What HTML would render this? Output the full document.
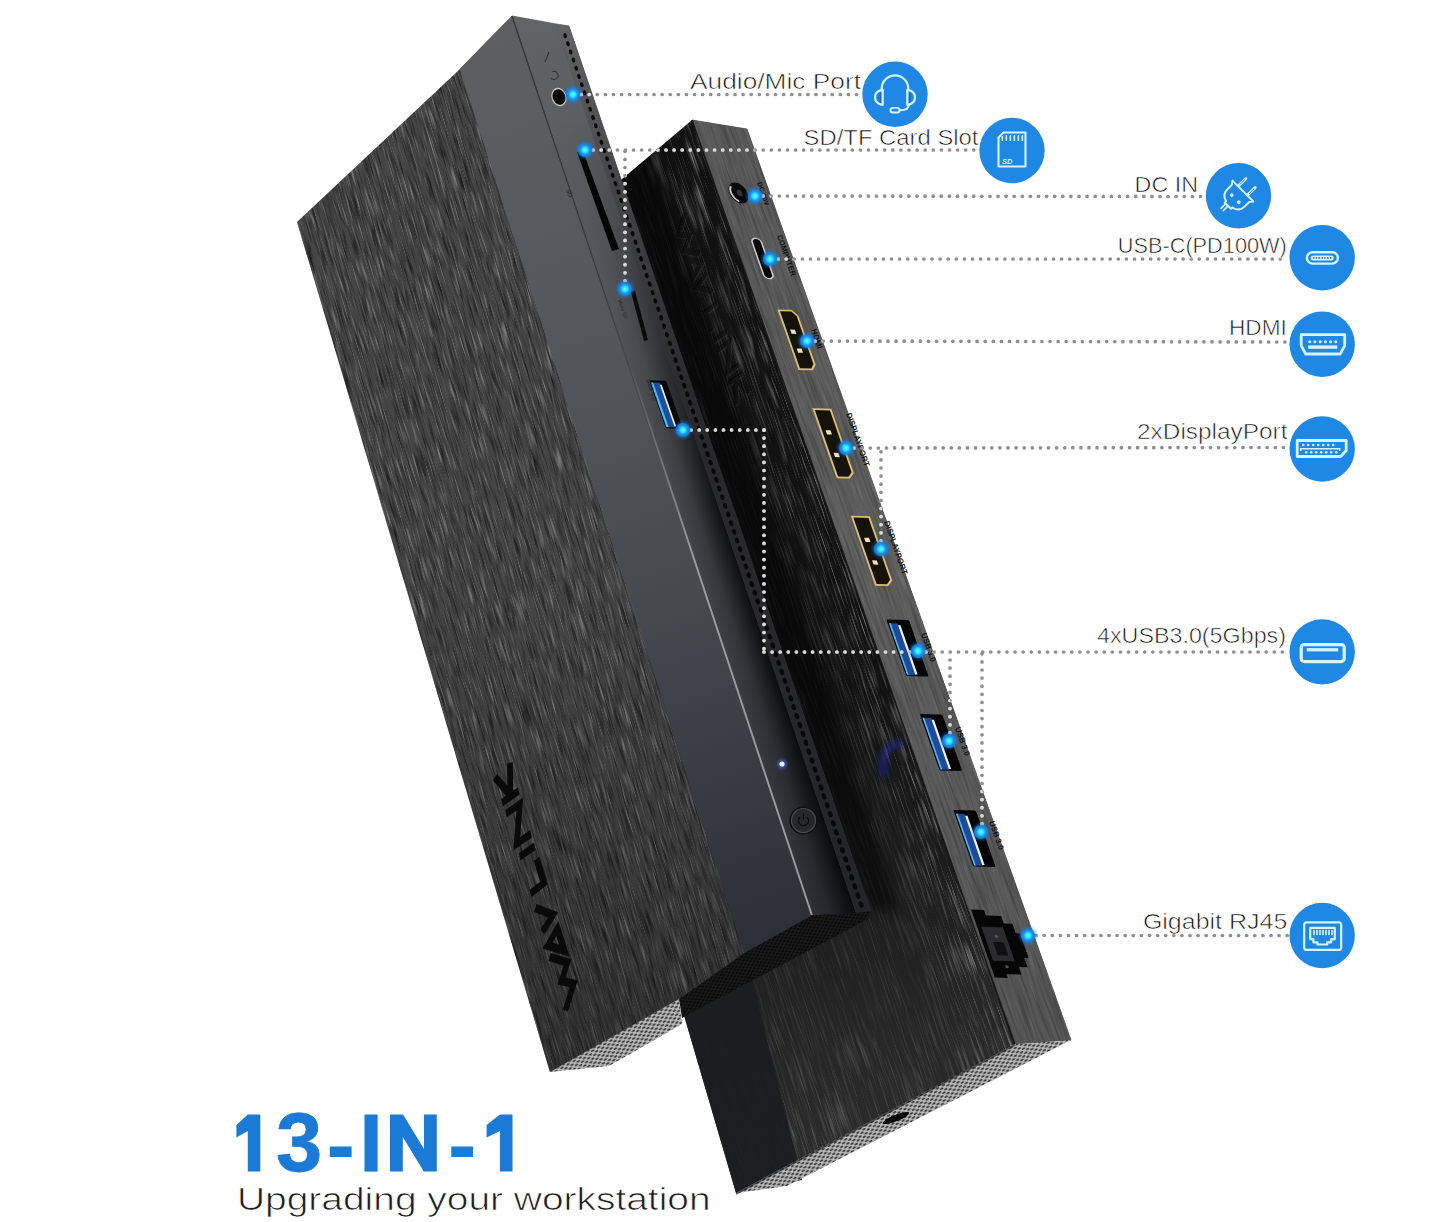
<!DOCTYPE html><html><head><meta charset="utf-8"><style>html,body{margin:0;padding:0;background:#fff;width:1445px;height:1222px;overflow:hidden}svg{display:block}</style></head><body>
<svg width="1445" height="1222" viewBox="0 0 1445 1222" font-family="Liberation Sans, sans-serif">
<defs>
<filter id="brush" x="0" y="0" width="100%" height="100%" filterUnits="objectBoundingBox">
<feTurbulence type="fractalNoise" baseFrequency="0.03 0.7" numOctaves="3" seed="3"/>
<feColorMatrix type="matrix" values="0 0 0 0 0  0 0 0 0 0  0 0 0 0 0  -1.5 0 0 0 0.83"/></filter>
<filter id="brushL" x="0" y="0" width="100%" height="100%" filterUnits="objectBoundingBox">
<feTurbulence type="fractalNoise" baseFrequency="0.03 0.8" numOctaves="2" seed="9"/>
<feColorMatrix type="matrix" values="0 0 0 0 1  0 0 0 0 1  0 0 0 0 1  1.05 0 0 0 -0.55"/></filter>
<filter id="brushB" x="0" y="0" width="100%" height="100%" filterUnits="objectBoundingBox">
<feTurbulence type="fractalNoise" baseFrequency="0.02 0.6" numOctaves="3" seed="5"/>
<feColorMatrix type="matrix" values="0 0 0 0 1  0 0 0 0 1  0 0 0 0 1  1.6 0 0 0 -0.8"/></filter>
<filter id="brushS" x="0" y="0" width="100%" height="100%" filterUnits="objectBoundingBox">
<feTurbulence type="fractalNoise" baseFrequency="0.015 0.4" numOctaves="2" seed="7"/>
<feColorMatrix type="matrix" values="0 0 0 0 0  0 0 0 0 0  0 0 0 0 0  -1.4 0 0 0 0.8"/></filter>
<filter id="glow" x="-1" y="-1" width="3" height="3"><feGaussianBlur stdDeviation="1.6"/></filter>
<filter id="blur1" x="-1" y="-1" width="3" height="3"><feGaussianBlur stdDeviation="0.6"/></filter><filter id="blur3" x="-1" y="-1" width="3" height="3"><feGaussianBlur stdDeviation="3"/></filter>
<filter id="blurBig" x="-1" y="-1" width="3" height="3"><feGaussianBlur stdDeviation="6"/></filter>

<clipPath id="cAf"><polygon points="297.0,222.0 460.0,69.0 744.0,953.0 679.0,999.0 550.0,1072.0"/></clipPath>
<clipPath id="cBf"><polygon points="621.0,180.0 692.0,120.0 1015.0,1045.0 736.0,1193.0 681.0,1005.0 660.0,900.0"/></clipPath>
<clipPath id="cBs"><polygon points="692.0,120.0 747.0,129.0 1071.0,1040.0 1015.0,1045.0"/></clipPath>
<clipPath id="cAs"><polygon points="460.0,69.0 512.0,16.0 812.0,915.0 744.0,953.0"/></clipPath>
<clipPath id="cAp"><polygon points="512.0,16.0 555.0,24.0 856.0,913.0 812.0,915.0"/></clipPath>
<clipPath id="cBe"><polygon points="736.0,1193.0 1015.0,1044.0 1071.0,1040.0 787.0,1186.0"/></clipPath>
<clipPath id="cAel"><polygon points="550.0,1072.0 679.0,998.0 682.0,1024.0 609.0,1066.0"/></clipPath>
<clipPath id="cAed"><polygon points="679.0,999.0 744.0,953.0 812.0,915.0 870.5,911.0 868.0,919.0 682.0,1018.0"/></clipPath>
<clipPath id="cAperf"><polygon points="555.0,24.0 569.0,26.0 870.5,911.0 856.0,913.0"/></clipPath>
<clipPath id="cDev"><polygon points="297.0,222.0 460.0,69.0 744.0,953.0 679.0,999.0 550.0,1072.0"/><polygon points="460.0,69.0 512.0,16.0 812.0,915.0 744.0,953.0"/><polygon points="512.0,16.0 555.0,24.0 856.0,913.0 812.0,915.0"/><polygon points="555.0,24.0 569.0,26.0 870.5,911.0 856.0,913.0"/><polygon points="621.0,180.0 692.0,120.0 1015.0,1045.0 736.0,1193.0 681.0,1005.0 660.0,900.0"/><polygon points="692.0,120.0 747.0,129.0 1071.0,1040.0 1015.0,1045.0"/><polygon points="679.0,999.0 744.0,953.0 812.0,915.0 870.5,911.0 868.0,919.0 682.0,1018.0"/></clipPath>
<linearGradient id="gAside" gradientUnits="userSpaceOnUse" x1="480" y1="40" x2="780" y2="940">
<stop offset="0" stop-color="#5e5f63"/><stop offset="0.35" stop-color="#53565b"/><stop offset="0.62" stop-color="#464950"/><stop offset="1" stop-color="#2c2f37"/></linearGradient>
<linearGradient id="gAport" gradientUnits="userSpaceOnUse" x1="530" y1="20" x2="830" y2="915">
<stop offset="0" stop-color="#626367"/><stop offset="0.3" stop-color="#55575c"/><stop offset="0.6" stop-color="#44464c"/><stop offset="1" stop-color="#2e3036"/></linearGradient>
<linearGradient id="gAportShade" gradientUnits="userSpaceOnUse" x1="700" y1="600" x2="745" y2="585">
<stop offset="0" stop-color="#000" stop-opacity="0"/><stop offset="1" stop-color="#000" stop-opacity="0.7"/></linearGradient>
<linearGradient id="gAperf" gradientUnits="userSpaceOnUse" x1="560" y1="25" x2="860" y2="912">
<stop offset="0" stop-color="#636365"/><stop offset="0.22" stop-color="#404042"/><stop offset="0.42" stop-color="#2a2a2c"/><stop offset="1" stop-color="#242528"/></linearGradient>
<linearGradient id="gBside" gradientUnits="userSpaceOnUse" x1="700" y1="120" x2="1040" y2="1040">
<stop offset="0" stop-color="#5a5a5b"/><stop offset="0.5" stop-color="#5f5f60"/><stop offset="1" stop-color="#575758"/></linearGradient>
<linearGradient id="gBfront" gradientUnits="userSpaceOnUse" x1="650" y1="150" x2="880" y2="1150">
<stop offset="0" stop-color="#111"/><stop offset="0.55" stop-color="#121213"/><stop offset="0.8" stop-color="#202021"/><stop offset="1" stop-color="#2c2c2d"/></linearGradient>
<radialGradient id="hot"><stop offset="0" stop-color="#6ffaff"/><stop offset="0.35" stop-color="#25e0fa"/><stop offset="0.6" stop-color="#1b95ea"/><stop offset="0.85" stop-color="#1a7ee0" stop-opacity="0.85"/><stop offset="1" stop-color="#1a7ee0" stop-opacity="0"/></radialGradient>
<pattern id="mesh" width="7" height="4.6" patternUnits="userSpaceOnUse" patternTransform="rotate(-29)">
<rect width="7" height="4.6" fill="#b9b9b9"/><ellipse cx="1.75" cy="1.15" rx="2.0" ry="0.95" fill="#2e2e2e"/><ellipse cx="5.25" cy="3.45" rx="2.0" ry="0.95" fill="#2e2e2e"/></pattern>
<pattern id="meshD" width="6" height="4" patternUnits="userSpaceOnUse" patternTransform="rotate(-28)">
<rect width="6" height="4" fill="#1a1a1a"/><ellipse cx="1.5" cy="1" rx="1.5" ry="0.85" fill="#030303"/><ellipse cx="4.5" cy="3" rx="1.5" ry="0.85" fill="#030303"/></pattern>

</defs>
<polygon points="621.0,180.0 692.0,120.0 1015.0,1045.0 736.0,1193.0 681.0,1005.0 660.0,900.0" fill="url(#gBfront)"/>
<polygon points="692.0,120.0 747.0,129.0 1071.0,1040.0 1015.0,1045.0" fill="#3a3a3a" stroke="#3a3a3a" stroke-width="0.6"/>
<linearGradient id="gBand" gradientUnits="userSpaceOnUse" x1="0" y1="-614" x2="0" y2="-540">
<stop offset="0" stop-color="#fff" stop-opacity="1"/><stop offset="1" stop-color="#fff" stop-opacity="0"/></linearGradient>
<mask id="mBand"><rect x="-200" y="-700" width="1800" height="500" fill="url(#gBand)"/></mask>
<linearGradient id="gLow" gradientUnits="userSpaceOnUse" x1="0" y1="960" x2="0" y2="1160">
<stop offset="0" stop-color="#fff" stop-opacity="0"/><stop offset="1" stop-color="#fff" stop-opacity="1"/></linearGradient>
<mask id="mLow"><rect x="500" y="0" width="700" height="1222" fill="url(#gLow)"/></mask>
<g clip-path="url(#cBf)"><g transform="rotate(70.75)"><rect x="200" y="-700" width="1200" height="500" filter="url(#brushB)" mask="url(#mBand)" opacity="0.9"/></g></g>
<g clip-path="url(#cBf)"><g transform="rotate(71)"><rect x="150" y="-800" width="1300" height="600" filter="url(#brushB)" opacity="0.22"/></g></g>
<g clip-path="url(#cBf)" mask="url(#mLow)"><g transform="rotate(71.5)"><rect x="200" y="-800" width="1300" height="600" filter="url(#brushB)" opacity="0.45"/></g></g>
<polygon points="681,1005 736,1193 802,1180 750,972 690,1008" fill="#1b1d21" opacity="0.94"/>
<g clip-path="url(#cBf)"><polygon points="569,26 868,911 900,911 610,26" fill="#000" opacity="0.5" filter="url(#blurBig)"/></g>
<polygon points="692.0,120.0 747.0,129.0 1071.0,1040.0 1015.0,1045.0" fill="url(#gBside)"/>
<g clip-path="url(#cBs)"><g transform="rotate(70.5)"><rect x="200" y="-720" width="1200" height="200" filter="url(#brushL)" opacity="0.32"/><rect x="200" y="-720" width="1200" height="200" filter="url(#brushS)" opacity="0.45"/></g></g>
<line x1="692" y1="120" x2="1015" y2="1045" stroke="#0c0c0c" stroke-width="1.6" opacity="0.8"/>
<polygon points="736.0,1193.0 1015.0,1044.0 1071.0,1040.0 787.0,1186.0" fill="url(#mesh)"/>
<polygon points="736,1193 1015,1044 1015,1046 736,1195" fill="#111" opacity="0.6"/>
<ellipse cx="896" cy="1118" rx="14" ry="3.2" fill="#0a0a0a" transform="rotate(-22 896 1118)"/>
<g fill="#3a3b3e" stroke="#3a3b3e" stroke-width="0.5"><polygon points="460.0,69.0 512.0,16.0 812.0,915.0 744.0,953.0"/><polygon points="512.0,16.0 555.0,24.0 856.0,913.0 812.0,915.0"/><polygon points="555.0,24.0 569.0,26.0 870.5,911.0 856.0,913.0"/></g>
<polygon points="550.0,1072.0 679.0,998.0 682.0,1024.0 609.0,1066.0" fill="url(#mesh)"/>
<polygon points="679.0,999.0 744.0,953.0 812.0,915.0 870.5,911.0 868.0,919.0 682.0,1018.0" fill="url(#meshD)"/>
<polygon points="297.0,222.0 460.0,69.0 744.0,953.0 679.0,999.0 550.0,1072.0" fill="#454545"/>
<g clip-path="url(#cAf)"><g transform="rotate(73.5 520 545)"><rect x="-100" y="-400" width="1240" height="1890" filter="url(#brush)"/><rect x="-100" y="-400" width="1240" height="1890" filter="url(#brushL)"/></g></g>
<linearGradient id="gAfDark" gradientUnits="userSpaceOnUse" x1="0" y1="600" x2="0" y2="1070"><stop offset="0" stop-color="#000" stop-opacity="0"/><stop offset="1" stop-color="#000" stop-opacity="0.3"/></linearGradient>
<polygon points="297.0,222.0 460.0,69.0 744.0,953.0 679.0,999.0 550.0,1072.0" fill="url(#gAfDark)"/>
<polygon points="460.0,69.0 512.0,16.0 812.0,915.0 744.0,953.0" fill="url(#gAside)"/>
<polygon points="512.0,16.0 555.0,24.0 856.0,913.0 812.0,915.0" fill="url(#gAport)"/>
<linearGradient id="gPS" gradientUnits="userSpaceOnUse" x1="707" y1="600" x2="747" y2="586.5">
<stop offset="0" stop-color="#000" stop-opacity="0"/><stop offset="0.4" stop-color="#000" stop-opacity="0.2"/><stop offset="1" stop-color="#000" stop-opacity="0.82"/></linearGradient>
<linearGradient id="gPSm" gradientUnits="userSpaceOnUse" x1="0" y1="120" x2="0" y2="520"><stop offset="0" stop-color="#fff" stop-opacity="0"/><stop offset="1" stop-color="#fff" stop-opacity="1"/></linearGradient>
<mask id="mPS"><rect x="400" y="0" width="600" height="1000" fill="url(#gPSm)"/></mask>
<polygon points="512.0,16.0 555.0,24.0 856.0,913.0 812.0,915.0" fill="url(#gPS)" mask="url(#mPS)"/>
<polygon points="555.0,24.0 569.0,26.0 870.5,911.0 856.0,913.0" fill="url(#gAperf)"/>
<g fill="#080808"><ellipse cx="565.1" cy="35.6" rx="2.51" ry="1.71" transform="rotate(71.2 565.1 35.6)"/><ellipse cx="567.9" cy="43.8" rx="2.52" ry="1.71" transform="rotate(71.2 567.9 43.8)"/><ellipse cx="570.7" cy="52.0" rx="2.53" ry="1.72" transform="rotate(71.2 570.7 52.0)"/><ellipse cx="573.5" cy="60.1" rx="2.54" ry="1.72" transform="rotate(71.2 573.5 60.1)"/><ellipse cx="576.2" cy="68.3" rx="2.54" ry="1.73" transform="rotate(71.2 576.2 68.3)"/><ellipse cx="579.0" cy="76.5" rx="2.55" ry="1.73" transform="rotate(71.2 579.0 76.5)"/><ellipse cx="581.8" cy="84.7" rx="2.56" ry="1.74" transform="rotate(71.2 581.8 84.7)"/><ellipse cx="584.6" cy="92.9" rx="2.57" ry="1.75" transform="rotate(71.2 584.6 92.9)"/><ellipse cx="587.4" cy="101.1" rx="2.58" ry="1.75" transform="rotate(71.2 587.4 101.1)"/><ellipse cx="590.2" cy="109.3" rx="2.59" ry="1.76" transform="rotate(71.2 590.2 109.3)"/><ellipse cx="593.0" cy="117.6" rx="2.59" ry="1.76" transform="rotate(71.2 593.0 117.6)"/><ellipse cx="595.8" cy="125.8" rx="2.60" ry="1.77" transform="rotate(71.2 595.8 125.8)"/><ellipse cx="598.6" cy="134.0" rx="2.61" ry="1.77" transform="rotate(71.2 598.6 134.0)"/><ellipse cx="601.4" cy="142.3" rx="2.62" ry="1.78" transform="rotate(71.2 601.4 142.3)"/><ellipse cx="604.3" cy="150.6" rx="2.63" ry="1.78" transform="rotate(71.2 604.3 150.6)"/><ellipse cx="607.1" cy="158.8" rx="2.64" ry="1.79" transform="rotate(71.2 607.1 158.8)"/><ellipse cx="609.9" cy="167.1" rx="2.64" ry="1.80" transform="rotate(71.2 609.9 167.1)"/><ellipse cx="612.7" cy="175.4" rx="2.65" ry="1.80" transform="rotate(71.2 612.7 175.4)"/><ellipse cx="615.5" cy="183.7" rx="2.66" ry="1.81" transform="rotate(71.2 615.5 183.7)"/><ellipse cx="618.4" cy="192.0" rx="2.67" ry="1.81" transform="rotate(71.2 618.4 192.0)"/><ellipse cx="621.2" cy="200.4" rx="2.68" ry="1.82" transform="rotate(71.2 621.2 200.4)"/><ellipse cx="624.0" cy="208.7" rx="2.69" ry="1.82" transform="rotate(71.2 624.0 208.7)"/><ellipse cx="626.9" cy="217.0" rx="2.69" ry="1.83" transform="rotate(71.2 626.9 217.0)"/><ellipse cx="629.7" cy="225.4" rx="2.70" ry="1.84" transform="rotate(71.2 629.7 225.4)"/><ellipse cx="632.6" cy="233.7" rx="2.71" ry="1.84" transform="rotate(71.2 632.6 233.7)"/><ellipse cx="635.4" cy="242.1" rx="2.72" ry="1.85" transform="rotate(71.2 635.4 242.1)"/><ellipse cx="638.3" cy="250.5" rx="2.73" ry="1.85" transform="rotate(71.2 638.3 250.5)"/><ellipse cx="641.1" cy="258.8" rx="2.74" ry="1.86" transform="rotate(71.2 641.1 258.8)"/><ellipse cx="644.0" cy="267.2" rx="2.75" ry="1.86" transform="rotate(71.2 644.0 267.2)"/><ellipse cx="646.8" cy="275.6" rx="2.75" ry="1.87" transform="rotate(71.2 646.8 275.6)"/><ellipse cx="649.7" cy="284.0" rx="2.76" ry="1.88" transform="rotate(71.2 649.7 284.0)"/><ellipse cx="652.6" cy="292.5" rx="2.77" ry="1.88" transform="rotate(71.2 652.6 292.5)"/><ellipse cx="655.4" cy="300.9" rx="2.78" ry="1.89" transform="rotate(71.2 655.4 300.9)"/><ellipse cx="658.3" cy="309.3" rx="2.79" ry="1.89" transform="rotate(71.2 658.3 309.3)"/><ellipse cx="661.2" cy="317.8" rx="2.80" ry="1.90" transform="rotate(71.2 661.2 317.8)"/><ellipse cx="664.1" cy="326.2" rx="2.81" ry="1.90" transform="rotate(71.2 664.1 326.2)"/><ellipse cx="666.9" cy="334.7" rx="2.81" ry="1.91" transform="rotate(71.2 666.9 334.7)"/><ellipse cx="669.8" cy="343.2" rx="2.82" ry="1.92" transform="rotate(71.2 669.8 343.2)"/><ellipse cx="672.7" cy="351.6" rx="2.83" ry="1.92" transform="rotate(71.2 672.7 351.6)"/><ellipse cx="675.6" cy="360.1" rx="2.84" ry="1.93" transform="rotate(71.2 675.6 360.1)"/><ellipse cx="678.5" cy="368.6" rx="2.85" ry="1.93" transform="rotate(71.2 678.5 368.6)"/><ellipse cx="681.4" cy="377.1" rx="2.86" ry="1.94" transform="rotate(71.2 681.4 377.1)"/><ellipse cx="684.3" cy="385.6" rx="2.87" ry="1.94" transform="rotate(71.2 684.3 385.6)"/><ellipse cx="687.2" cy="394.2" rx="2.87" ry="1.95" transform="rotate(71.2 687.2 394.2)"/><ellipse cx="690.1" cy="402.7" rx="2.88" ry="1.96" transform="rotate(71.2 690.1 402.7)"/><ellipse cx="693.0" cy="411.3" rx="2.89" ry="1.96" transform="rotate(71.2 693.0 411.3)"/><ellipse cx="695.9" cy="419.8" rx="2.90" ry="1.97" transform="rotate(71.2 695.9 419.8)"/><ellipse cx="698.8" cy="428.4" rx="2.91" ry="1.97" transform="rotate(71.2 698.8 428.4)"/><ellipse cx="701.8" cy="436.9" rx="2.92" ry="1.98" transform="rotate(71.2 701.8 436.9)"/><ellipse cx="704.7" cy="445.5" rx="2.93" ry="1.98" transform="rotate(71.2 704.7 445.5)"/><ellipse cx="707.6" cy="454.1" rx="2.94" ry="1.99" transform="rotate(71.2 707.6 454.1)"/><ellipse cx="710.5" cy="462.7" rx="2.94" ry="2.00" transform="rotate(71.2 710.5 462.7)"/><ellipse cx="713.5" cy="471.3" rx="2.95" ry="2.00" transform="rotate(71.2 713.5 471.3)"/><ellipse cx="716.4" cy="479.9" rx="2.96" ry="2.01" transform="rotate(71.2 716.4 479.9)"/><ellipse cx="719.3" cy="488.6" rx="2.97" ry="2.01" transform="rotate(71.2 719.3 488.6)"/><ellipse cx="722.3" cy="497.2" rx="2.98" ry="2.02" transform="rotate(71.2 722.3 497.2)"/><ellipse cx="725.2" cy="505.8" rx="2.99" ry="2.03" transform="rotate(71.2 725.2 505.8)"/><ellipse cx="728.2" cy="514.5" rx="3.00" ry="2.03" transform="rotate(71.2 728.2 514.5)"/><ellipse cx="731.1" cy="523.2" rx="3.01" ry="2.04" transform="rotate(71.2 731.1 523.2)"/><ellipse cx="734.1" cy="531.8" rx="3.01" ry="2.04" transform="rotate(71.2 734.1 531.8)"/><ellipse cx="737.0" cy="540.5" rx="3.02" ry="2.05" transform="rotate(71.2 737.0 540.5)"/><ellipse cx="740.0" cy="549.2" rx="3.03" ry="2.05" transform="rotate(71.2 740.0 549.2)"/><ellipse cx="742.9" cy="557.9" rx="3.04" ry="2.06" transform="rotate(71.2 742.9 557.9)"/><ellipse cx="745.9" cy="566.6" rx="3.05" ry="2.07" transform="rotate(71.2 745.9 566.6)"/><ellipse cx="748.9" cy="575.3" rx="3.06" ry="2.07" transform="rotate(71.2 748.9 575.3)"/><ellipse cx="751.8" cy="584.1" rx="3.07" ry="2.08" transform="rotate(71.2 751.8 584.1)"/><ellipse cx="754.8" cy="592.8" rx="3.08" ry="2.08" transform="rotate(71.2 754.8 592.8)"/><ellipse cx="757.8" cy="601.5" rx="3.08" ry="2.09" transform="rotate(71.2 757.8 601.5)"/><ellipse cx="760.8" cy="610.3" rx="3.09" ry="2.10" transform="rotate(71.2 760.8 610.3)"/><ellipse cx="763.8" cy="619.1" rx="3.10" ry="2.10" transform="rotate(71.2 763.8 619.1)"/><ellipse cx="766.8" cy="627.8" rx="3.11" ry="2.11" transform="rotate(71.2 766.8 627.8)"/><ellipse cx="769.7" cy="636.6" rx="3.12" ry="2.11" transform="rotate(71.2 769.7 636.6)"/><ellipse cx="772.7" cy="645.4" rx="3.13" ry="2.12" transform="rotate(71.2 772.7 645.4)"/><ellipse cx="775.7" cy="654.2" rx="3.14" ry="2.13" transform="rotate(71.2 775.7 654.2)"/><ellipse cx="778.7" cy="663.0" rx="3.15" ry="2.13" transform="rotate(71.2 778.7 663.0)"/><ellipse cx="781.7" cy="671.9" rx="3.16" ry="2.14" transform="rotate(71.2 781.7 671.9)"/><ellipse cx="784.7" cy="680.7" rx="3.17" ry="2.14" transform="rotate(71.2 784.7 680.7)"/><ellipse cx="787.8" cy="689.5" rx="3.17" ry="2.15" transform="rotate(71.2 787.8 689.5)"/><ellipse cx="790.8" cy="698.4" rx="3.18" ry="2.16" transform="rotate(71.2 790.8 698.4)"/><ellipse cx="793.8" cy="707.2" rx="3.19" ry="2.16" transform="rotate(71.2 793.8 707.2)"/><ellipse cx="796.8" cy="716.1" rx="3.20" ry="2.17" transform="rotate(71.2 796.8 716.1)"/><ellipse cx="799.8" cy="725.0" rx="3.21" ry="2.17" transform="rotate(71.2 799.8 725.0)"/><ellipse cx="802.9" cy="733.9" rx="3.22" ry="2.18" transform="rotate(71.2 802.9 733.9)"/><ellipse cx="805.9" cy="742.8" rx="3.23" ry="2.19" transform="rotate(71.2 805.9 742.8)"/><ellipse cx="808.9" cy="751.7" rx="3.24" ry="2.19" transform="rotate(71.2 808.9 751.7)"/><ellipse cx="812.0" cy="760.6" rx="3.25" ry="2.20" transform="rotate(71.2 812.0 760.6)"/><ellipse cx="815.0" cy="769.5" rx="3.26" ry="2.20" transform="rotate(71.2 815.0 769.5)"/><ellipse cx="818.0" cy="778.5" rx="3.26" ry="2.21" transform="rotate(71.2 818.0 778.5)"/><ellipse cx="821.1" cy="787.4" rx="3.27" ry="2.22" transform="rotate(71.2 821.1 787.4)"/><ellipse cx="824.1" cy="796.4" rx="3.28" ry="2.22" transform="rotate(71.2 824.1 796.4)"/><ellipse cx="827.2" cy="805.3" rx="3.29" ry="2.23" transform="rotate(71.2 827.2 805.3)"/><ellipse cx="830.2" cy="814.3" rx="3.30" ry="2.23" transform="rotate(71.2 830.2 814.3)"/><ellipse cx="833.3" cy="823.3" rx="3.31" ry="2.24" transform="rotate(71.2 833.3 823.3)"/><ellipse cx="836.4" cy="832.3" rx="3.32" ry="2.25" transform="rotate(71.2 836.4 832.3)"/><ellipse cx="839.4" cy="841.3" rx="3.33" ry="2.25" transform="rotate(71.2 839.4 841.3)"/><ellipse cx="842.5" cy="850.3" rx="3.34" ry="2.26" transform="rotate(71.2 842.5 850.3)"/><ellipse cx="845.6" cy="859.3" rx="3.35" ry="2.26" transform="rotate(71.2 845.6 859.3)"/><ellipse cx="848.6" cy="868.3" rx="3.36" ry="2.27" transform="rotate(71.2 848.6 868.3)"/><ellipse cx="851.7" cy="877.4" rx="3.36" ry="2.28" transform="rotate(71.2 851.7 877.4)"/><ellipse cx="854.8" cy="886.4" rx="3.37" ry="2.28" transform="rotate(71.2 854.8 886.4)"/><ellipse cx="857.9" cy="895.5" rx="3.38" ry="2.29" transform="rotate(71.2 857.9 895.5)"/><ellipse cx="861.0" cy="904.6" rx="3.39" ry="2.29" transform="rotate(71.2 861.0 904.6)"/></g>
<linearGradient id="gDL" gradientUnits="userSpaceOnUse" x1="0" y1="16" x2="0" y2="460"><stop offset="0" stop-color="#2a2c30" stop-opacity="0.9"/><stop offset="0.6" stop-color="#2a2c30" stop-opacity="0.6"/><stop offset="1" stop-color="#2a2c30" stop-opacity="0"/></linearGradient>
<linearGradient id="gLL" gradientUnits="userSpaceOnUse" x1="0" y1="360" x2="0" y2="560"><stop offset="0" stop-color="#a3a6ab" stop-opacity="0"/><stop offset="1" stop-color="#a3a6ab" stop-opacity="0.9"/></linearGradient>
<polygon points="511.3,16 512.7,16 662.7,466 661.3,466" fill="url(#gDL)"/>
<polygon points="630.5,370 632.5,370 812.8,915 810.8,915" fill="url(#gLL)"/>
<line x1="512" y1="16" x2="569" y2="26" stroke="#777" stroke-width="1" opacity="0.5"/>
<g transform="rotate(71 559 97)"><ellipse cx="559" cy="97" rx="9.5" ry="7.5" fill="#c9c2b5"/><ellipse cx="559" cy="97" rx="8" ry="6.3" fill="#0a0a0a"/></g>
<g stroke="#333" stroke-width="1.1" fill="none"><path d="M 552 72 a 4 4 0 1 1 -1 6"/><line x1="545" y1="62" x2="549" y2="52"/></g>
<polygon points="577,152 583,151 619,249 612,251" fill="#050505"/>
<text x="0" y="0" font-size="6" fill="#222" transform="translate(566 190) rotate(71)">SD</text>
<polygon points="631,292 635,291 648,340 644,341" fill="#0a0a0a"/>
<text x="0" y="0" font-size="5" fill="#222" transform="translate(618 300) rotate(71)">Micro SD</text>
<g transform="matrix(1.0 0.03 0.33 0.944 666 404.5)"><rect x="-8.5" y="-25.5" width="17" height="51" rx="1.5" fill="#070707"/><rect x="-7.5" y="-23" width="9" height="47" fill="#1d4f9e"/><rect x="-7.5" y="-23" width="2.2" height="47" fill="#4cc0f0"/><rect x="0.8" y="-21" width="1.8" height="44" fill="#e8f0f6"/></g>
<text x="0" y="0" font-size="6" fill="#222" transform="translate(646 380) rotate(71)">USB 3.0</text>
<circle cx="782" cy="764" r="5" fill="#4a7bff" opacity="0.5" filter="url(#glow)"/><circle cx="782" cy="764" r="2.6" fill="#e6f0ff"/>
<circle cx="803.5" cy="820.5" r="14" fill="#0e0f12"/><circle cx="803.5" cy="820.5" r="12" fill="#25272b" stroke="#4a4c52" stroke-width="1.2"/><path d="M 800 817 a 5 5 0 1 0 7 0" stroke="#0a0a0a" stroke-width="1.3" fill="none"/><line x1="803.5" y1="813.5" x2="803.5" y2="819.5" stroke="#0a0a0a" stroke-width="1.3"/>
<g transform="matrix(-0.295 -0.9915 -0.77 0.64 581 1000)" fill="none" stroke="#0a0a0a" stroke-width="7" stroke-linejoin="miter" stroke-miterlimit="4"><path d="M 2 19.5 L 18 2.5 L 28.5 14.5 L 39.5 2.5 L 56 19.5"/><path d="M 51 2 L 66.5 18 L 73.5 2.5 Z"/><path d="M 81 19 L 87.5 2.5 L 105 19"/><path d="M 120 19.5 L 119.5 2.5 L 144 2.5"/><path d="M 157 19.5 L 155.5 0.5"/><path d="M 168 0.5 L 169.5 18.5 L 199.5 3 L 201 20.5"/><path d="M 211 0 L 212.5 21 M 213 10 L 238 20.5 M 213 10 L 239.5 0.5"/></g>
<g clip-path="url(#cBf)"><g transform="matrix(0.267 0.765 0.657 -0.556 673.2 223)" fill="none" stroke="#4a4a4a" stroke-width="6" opacity="0.25"><path d="M 2 19.5 L 18 2.5 L 28.5 14.5 L 39.5 2.5 L 56 19.5"/><path d="M 51 2 L 66.5 18 L 73.5 2.5 Z"/><path d="M 81 19 L 87.5 2.5 L 105 19"/><path d="M 120 19.5 L 119.5 2.5 L 144 2.5"/><path d="M 157 19.5 L 155.5 0.5"/><path d="M 168 0.5 L 169.5 18.5 L 199.5 3 L 201 20.5"/><path d="M 211 0 L 212.5 21 M 213 10 L 238 20.5 M 213 10 L 239.5 0.5"/></g><g transform="matrix(0.267 0.765 0.657 -0.556 672 222)" fill="none" stroke="#020202" stroke-width="6" opacity="0.45"><path d="M 2 19.5 L 18 2.5 L 28.5 14.5 L 39.5 2.5 L 56 19.5"/><path d="M 51 2 L 66.5 18 L 73.5 2.5 Z"/><path d="M 81 19 L 87.5 2.5 L 105 19"/><path d="M 120 19.5 L 119.5 2.5 L 144 2.5"/><path d="M 157 19.5 L 155.5 0.5"/><path d="M 168 0.5 L 169.5 18.5 L 199.5 3 L 201 20.5"/><path d="M 211 0 L 212.5 21 M 213 10 L 238 20.5 M 213 10 L 239.5 0.5"/></g></g>
<g transform="matrix(1.08 0.03 0.33 0.944 738.5 193)"><ellipse cx="0" cy="0" rx="8.5" ry="11" fill="#070707"/><path d="M -5 -7 A 7.5 10 0 0 0 -2 9" stroke="#c8c8c8" stroke-width="1.8" fill="none"/><ellipse cx="1" cy="0" rx="2.5" ry="3.5" fill="#333"/></g>
<g transform="matrix(1.08 0.03 0.33 0.944 762.5 258.5)"><rect x="-5" y="-22" width="10" height="44" rx="5" fill="#d0d0d0"/><rect x="-3.6" y="-20.6" width="7.2" height="41.2" rx="3.6" fill="#060606"/></g>
<g transform="matrix(1.08 0.03 0.33 0.944 797.5 340)"><polygon points="-8.8,-32 4.5,-32 8.8,-26 8.8,26 4.5,32 -8.8,32" fill="#dcc070"/><polygon points="-7,-30.2 3.6,-30.2 7,-25.3 7,25.3 3.6,30.2 -7,30.2" fill="#15120a"/><rect x="-3.5" y="-11" width="4.5" height="4.5" fill="#ece2c0"/><rect x="-3.5" y="9" width="4.5" height="4.5" fill="#ece2c0"/></g>
<g transform="matrix(1.08 0.03 0.33 0.944 834 443.5)"><polygon points="-8.8,-37 8.8,-37 8.8,31 3.5,37 -8.8,37" fill="#dcc070"/><polygon points="-7,-35.2 7,-35.2 7,30.3 2.7,35.2 -7,35.2" fill="#15120a"/><rect x="-3.5" y="-14" width="4.5" height="4.5" fill="#ece2c0"/><rect x="-3.5" y="10" width="4.5" height="4.5" fill="#ece2c0"/></g>
<g transform="matrix(1.08 0.03 0.33 0.944 872.5 551)"><polygon points="-8.8,-37 8.8,-37 8.8,31 3.5,37 -8.8,37" fill="#dcc070"/><polygon points="-7,-35.2 7,-35.2 7,30.3 2.7,35.2 -7,35.2" fill="#15120a"/><rect x="-3.5" y="-14" width="4.5" height="4.5" fill="#ece2c0"/><rect x="-3.5" y="10" width="4.5" height="4.5" fill="#ece2c0"/></g>
<g transform="matrix(1.08 0.03 0.33 0.944 907.5 648)"><rect x="-10.5" y="-30" width="21" height="60" rx="1.5" fill="#050505"/><rect x="-9.2" y="-26" width="8" height="55" fill="#1c4a9c"/><rect x="-9.2" y="-26" width="1.6" height="55" fill="#5fb2e6"/><rect x="-1.4" y="-24" width="2.2" height="52" fill="#eef4f8"/></g>
<g transform="matrix(1.08 0.03 0.33 0.944 941 742.5)"><rect x="-10.5" y="-30" width="21" height="60" rx="1.5" fill="#050505"/><rect x="-9.2" y="-26" width="8" height="55" fill="#1c4a9c"/><rect x="-9.2" y="-26" width="1.6" height="55" fill="#5fb2e6"/><rect x="-1.4" y="-24" width="2.2" height="52" fill="#eef4f8"/></g>
<g transform="matrix(1.08 0.03 0.33 0.944 974.5 838.5)"><rect x="-10.5" y="-30" width="21" height="60" rx="1.5" fill="#050505"/><rect x="-9.2" y="-26" width="8" height="55" fill="#1c4a9c"/><rect x="-9.2" y="-26" width="1.6" height="55" fill="#5fb2e6"/><rect x="-1.4" y="-24" width="2.2" height="52" fill="#eef4f8"/></g>
<g transform="matrix(1.08 0.03 0.33 0.944 1003 946)"><path d="M -18 -38 h 12 v 6 h 14 v 8 h 8 v 10 h 4 v 26 h -4 v 10 h -8 v 8 h -14 v 4 h -12 z" fill="#060606"/><rect x="-14" y="-20" width="20" height="36" fill="#2c2c30"/><rect x="-8" y="-4" width="10" height="14" fill="#111"/><circle cx="-3" cy="-10" r="1.6" fill="#555"/><circle cx="-3" cy="22" r="1.6" fill="#555"/></g>
<text x="0" y="0" font-size="7" font-weight="bold" fill="#111" transform="translate(757 183) rotate(70.7)">DC 20V</text>
<text x="0" y="0" font-size="7.5" font-weight="bold" fill="#111" transform="translate(777 236) rotate(70.7)">COMPUTER</text>
<text x="0" y="0" font-size="8" font-weight="bold" fill="#111" transform="translate(811 330) rotate(70.7)">HDMI</text>
<text x="0" y="0" font-size="8" font-weight="bold" fill="#111" transform="translate(846 414) rotate(70.7)">DISPLAYPORT</text>
<text x="0" y="0" font-size="8" font-weight="bold" fill="#111" transform="translate(884 522) rotate(70.7)">DISPLAYPORT</text>
<text x="0" y="0" font-size="8" font-weight="bold" fill="#111" transform="translate(921 634) rotate(70.7)">USB 3.0</text>
<text x="0" y="0" font-size="8" font-weight="bold" fill="#111" transform="translate(955 728) rotate(70.7)">USB 3.0</text>
<text x="0" y="0" font-size="8" font-weight="bold" fill="#111" transform="translate(989 822) rotate(70.7)">USB 3.0</text>
<path d="M 902 744 a 18 20 0 0 0 -16 32" stroke="#2233ee" stroke-width="6" fill="none" opacity="0.45" filter="url(#blur3)"/>
<g fill="#8f8f8f"><circle cx="573.0" cy="94.5" r="1.85"/><circle cx="581.1" cy="94.5" r="1.85"/><circle cx="589.2" cy="94.5" r="1.85"/><circle cx="597.3" cy="94.5" r="1.85"/><circle cx="605.4" cy="94.5" r="1.85"/><circle cx="613.5" cy="94.5" r="1.85"/><circle cx="621.6" cy="94.5" r="1.85"/><circle cx="629.7" cy="94.5" r="1.85"/><circle cx="637.8" cy="94.5" r="1.85"/><circle cx="645.9" cy="94.5" r="1.85"/><circle cx="654.0" cy="94.5" r="1.85"/><circle cx="662.1" cy="94.5" r="1.85"/><circle cx="670.2" cy="94.5" r="1.85"/><circle cx="678.3" cy="94.5" r="1.85"/><circle cx="686.4" cy="94.5" r="1.85"/><circle cx="694.5" cy="94.5" r="1.85"/><circle cx="702.6" cy="94.5" r="1.85"/><circle cx="710.7" cy="94.5" r="1.85"/><circle cx="718.8" cy="94.5" r="1.85"/><circle cx="726.9" cy="94.5" r="1.85"/><circle cx="735.0" cy="94.5" r="1.85"/><circle cx="743.1" cy="94.5" r="1.85"/><circle cx="751.2" cy="94.5" r="1.85"/><circle cx="759.3" cy="94.5" r="1.85"/><circle cx="767.4" cy="94.5" r="1.85"/><circle cx="775.5" cy="94.5" r="1.85"/><circle cx="783.6" cy="94.5" r="1.85"/><circle cx="791.7" cy="94.5" r="1.85"/><circle cx="799.8" cy="94.5" r="1.85"/><circle cx="807.9" cy="94.5" r="1.85"/><circle cx="816.0" cy="94.5" r="1.85"/><circle cx="824.1" cy="94.5" r="1.85"/><circle cx="832.2" cy="94.5" r="1.85"/><circle cx="840.3" cy="94.5" r="1.85"/><circle cx="848.4" cy="94.5" r="1.85"/><circle cx="856.5" cy="94.5" r="1.85"/><circle cx="585.0" cy="150.0" r="1.85"/><circle cx="593.1" cy="150.0" r="1.85"/><circle cx="601.2" cy="150.0" r="1.85"/><circle cx="609.3" cy="150.0" r="1.85"/><circle cx="617.4" cy="150.0" r="1.85"/><circle cx="625.5" cy="150.0" r="1.85"/><circle cx="633.6" cy="150.0" r="1.85"/><circle cx="641.7" cy="150.0" r="1.85"/><circle cx="649.8" cy="150.0" r="1.85"/><circle cx="657.9" cy="150.0" r="1.85"/><circle cx="666.0" cy="150.0" r="1.85"/><circle cx="674.1" cy="150.0" r="1.85"/><circle cx="682.2" cy="150.0" r="1.85"/><circle cx="690.3" cy="150.0" r="1.85"/><circle cx="698.4" cy="150.0" r="1.85"/><circle cx="706.5" cy="150.0" r="1.85"/><circle cx="714.6" cy="150.0" r="1.85"/><circle cx="722.7" cy="150.0" r="1.85"/><circle cx="730.8" cy="150.0" r="1.85"/><circle cx="738.9" cy="150.0" r="1.85"/><circle cx="747.0" cy="150.0" r="1.85"/><circle cx="755.1" cy="150.0" r="1.85"/><circle cx="763.2" cy="150.0" r="1.85"/><circle cx="771.3" cy="150.0" r="1.85"/><circle cx="779.4" cy="150.0" r="1.85"/><circle cx="787.5" cy="150.0" r="1.85"/><circle cx="795.6" cy="150.0" r="1.85"/><circle cx="803.7" cy="150.0" r="1.85"/><circle cx="811.8" cy="150.0" r="1.85"/><circle cx="819.9" cy="150.0" r="1.85"/><circle cx="828.0" cy="150.0" r="1.85"/><circle cx="836.1" cy="150.0" r="1.85"/><circle cx="844.2" cy="150.0" r="1.85"/><circle cx="852.3" cy="150.0" r="1.85"/><circle cx="860.4" cy="150.0" r="1.85"/><circle cx="868.5" cy="150.0" r="1.85"/><circle cx="876.6" cy="150.0" r="1.85"/><circle cx="884.7" cy="150.0" r="1.85"/><circle cx="892.8" cy="150.0" r="1.85"/><circle cx="900.9" cy="150.0" r="1.85"/><circle cx="909.0" cy="150.0" r="1.85"/><circle cx="917.1" cy="150.0" r="1.85"/><circle cx="925.2" cy="150.0" r="1.85"/><circle cx="933.3" cy="150.0" r="1.85"/><circle cx="941.4" cy="150.0" r="1.85"/><circle cx="949.5" cy="150.0" r="1.85"/><circle cx="957.6" cy="150.0" r="1.85"/><circle cx="965.7" cy="150.0" r="1.85"/><circle cx="973.8" cy="150.0" r="1.85"/><circle cx="625.0" cy="289.0" r="1.85"/><circle cx="625.0" cy="280.9" r="1.85"/><circle cx="625.0" cy="272.8" r="1.85"/><circle cx="625.0" cy="264.7" r="1.85"/><circle cx="625.0" cy="256.6" r="1.85"/><circle cx="625.0" cy="248.5" r="1.85"/><circle cx="625.0" cy="240.4" r="1.85"/><circle cx="625.0" cy="232.3" r="1.85"/><circle cx="625.0" cy="224.2" r="1.85"/><circle cx="625.0" cy="216.1" r="1.85"/><circle cx="625.0" cy="208.0" r="1.85"/><circle cx="625.0" cy="199.9" r="1.85"/><circle cx="625.0" cy="191.8" r="1.85"/><circle cx="625.0" cy="183.7" r="1.85"/><circle cx="625.0" cy="175.6" r="1.85"/><circle cx="625.0" cy="167.5" r="1.85"/><circle cx="625.0" cy="159.4" r="1.85"/><circle cx="625.0" cy="151.3" r="1.85"/><circle cx="755.0" cy="196.0" r="1.85"/><circle cx="763.1" cy="196.0" r="1.85"/><circle cx="771.2" cy="196.0" r="1.85"/><circle cx="779.3" cy="196.0" r="1.85"/><circle cx="787.4" cy="196.0" r="1.85"/><circle cx="795.5" cy="196.0" r="1.85"/><circle cx="803.6" cy="196.1" r="1.85"/><circle cx="811.7" cy="196.1" r="1.85"/><circle cx="819.8" cy="196.1" r="1.85"/><circle cx="827.9" cy="196.1" r="1.85"/><circle cx="836.0" cy="196.1" r="1.85"/><circle cx="844.1" cy="196.1" r="1.85"/><circle cx="852.2" cy="196.1" r="1.85"/><circle cx="860.3" cy="196.1" r="1.85"/><circle cx="868.4" cy="196.1" r="1.85"/><circle cx="876.5" cy="196.1" r="1.85"/><circle cx="884.6" cy="196.1" r="1.85"/><circle cx="892.7" cy="196.2" r="1.85"/><circle cx="900.8" cy="196.2" r="1.85"/><circle cx="908.9" cy="196.2" r="1.85"/><circle cx="917.0" cy="196.2" r="1.85"/><circle cx="925.1" cy="196.2" r="1.85"/><circle cx="933.2" cy="196.2" r="1.85"/><circle cx="941.3" cy="196.2" r="1.85"/><circle cx="949.4" cy="196.2" r="1.85"/><circle cx="957.5" cy="196.2" r="1.85"/><circle cx="965.6" cy="196.2" r="1.85"/><circle cx="973.7" cy="196.2" r="1.85"/><circle cx="981.8" cy="196.3" r="1.85"/><circle cx="989.9" cy="196.3" r="1.85"/><circle cx="998.0" cy="196.3" r="1.85"/><circle cx="1006.1" cy="196.3" r="1.85"/><circle cx="1014.2" cy="196.3" r="1.85"/><circle cx="1022.3" cy="196.3" r="1.85"/><circle cx="1030.4" cy="196.3" r="1.85"/><circle cx="1038.5" cy="196.3" r="1.85"/><circle cx="1046.6" cy="196.3" r="1.85"/><circle cx="1054.7" cy="196.3" r="1.85"/><circle cx="1062.8" cy="196.3" r="1.85"/><circle cx="1070.9" cy="196.4" r="1.85"/><circle cx="1079.0" cy="196.4" r="1.85"/><circle cx="1087.1" cy="196.4" r="1.85"/><circle cx="1095.2" cy="196.4" r="1.85"/><circle cx="1103.3" cy="196.4" r="1.85"/><circle cx="1111.4" cy="196.4" r="1.85"/><circle cx="1119.5" cy="196.4" r="1.85"/><circle cx="1127.6" cy="196.4" r="1.85"/><circle cx="1135.7" cy="196.4" r="1.85"/><circle cx="1143.8" cy="196.4" r="1.85"/><circle cx="1151.9" cy="196.4" r="1.85"/><circle cx="1160.0" cy="196.5" r="1.85"/><circle cx="1168.1" cy="196.5" r="1.85"/><circle cx="1176.2" cy="196.5" r="1.85"/><circle cx="1184.3" cy="196.5" r="1.85"/><circle cx="1192.4" cy="196.5" r="1.85"/><circle cx="1200.5" cy="196.5" r="1.85"/><circle cx="770.0" cy="259.0" r="1.85"/><circle cx="778.1" cy="259.0" r="1.85"/><circle cx="786.2" cy="259.0" r="1.85"/><circle cx="794.3" cy="259.0" r="1.85"/><circle cx="802.4" cy="259.0" r="1.85"/><circle cx="810.5" cy="259.0" r="1.85"/><circle cx="818.6" cy="259.0" r="1.85"/><circle cx="826.7" cy="259.0" r="1.85"/><circle cx="834.8" cy="259.0" r="1.85"/><circle cx="842.9" cy="259.0" r="1.85"/><circle cx="851.0" cy="259.0" r="1.85"/><circle cx="859.1" cy="259.0" r="1.85"/><circle cx="867.2" cy="259.0" r="1.85"/><circle cx="875.3" cy="259.0" r="1.85"/><circle cx="883.4" cy="259.0" r="1.85"/><circle cx="891.5" cy="259.0" r="1.85"/><circle cx="899.6" cy="259.0" r="1.85"/><circle cx="907.7" cy="259.0" r="1.85"/><circle cx="915.8" cy="259.0" r="1.85"/><circle cx="923.9" cy="259.0" r="1.85"/><circle cx="932.0" cy="259.0" r="1.85"/><circle cx="940.1" cy="259.0" r="1.85"/><circle cx="948.2" cy="259.0" r="1.85"/><circle cx="956.3" cy="259.0" r="1.85"/><circle cx="964.4" cy="259.0" r="1.85"/><circle cx="972.5" cy="259.0" r="1.85"/><circle cx="980.6" cy="259.0" r="1.85"/><circle cx="988.7" cy="259.0" r="1.85"/><circle cx="996.8" cy="259.0" r="1.85"/><circle cx="1004.9" cy="259.0" r="1.85"/><circle cx="1013.0" cy="259.0" r="1.85"/><circle cx="1021.1" cy="259.0" r="1.85"/><circle cx="1029.2" cy="259.0" r="1.85"/><circle cx="1037.3" cy="259.0" r="1.85"/><circle cx="1045.4" cy="259.0" r="1.85"/><circle cx="1053.5" cy="259.0" r="1.85"/><circle cx="1061.6" cy="259.0" r="1.85"/><circle cx="1069.7" cy="259.0" r="1.85"/><circle cx="1077.8" cy="259.0" r="1.85"/><circle cx="1085.9" cy="259.0" r="1.85"/><circle cx="1094.0" cy="259.0" r="1.85"/><circle cx="1102.1" cy="259.0" r="1.85"/><circle cx="1110.2" cy="259.0" r="1.85"/><circle cx="1118.3" cy="259.0" r="1.85"/><circle cx="1126.4" cy="259.0" r="1.85"/><circle cx="1134.5" cy="259.0" r="1.85"/><circle cx="1142.6" cy="259.0" r="1.85"/><circle cx="1150.7" cy="259.0" r="1.85"/><circle cx="1158.8" cy="259.0" r="1.85"/><circle cx="1166.9" cy="259.0" r="1.85"/><circle cx="1175.0" cy="259.0" r="1.85"/><circle cx="1183.1" cy="259.0" r="1.85"/><circle cx="1191.2" cy="259.0" r="1.85"/><circle cx="1199.3" cy="259.0" r="1.85"/><circle cx="1207.4" cy="259.0" r="1.85"/><circle cx="1215.5" cy="259.0" r="1.85"/><circle cx="1223.6" cy="259.0" r="1.85"/><circle cx="1231.7" cy="259.0" r="1.85"/><circle cx="1239.8" cy="259.0" r="1.85"/><circle cx="1247.9" cy="259.0" r="1.85"/><circle cx="1256.0" cy="259.0" r="1.85"/><circle cx="1264.1" cy="259.0" r="1.85"/><circle cx="1272.2" cy="259.0" r="1.85"/><circle cx="1280.3" cy="259.0" r="1.85"/><circle cx="807.0" cy="341.0" r="1.85"/><circle cx="815.1" cy="341.0" r="1.85"/><circle cx="823.2" cy="341.0" r="1.85"/><circle cx="831.3" cy="341.1" r="1.85"/><circle cx="839.4" cy="341.1" r="1.85"/><circle cx="847.5" cy="341.1" r="1.85"/><circle cx="855.6" cy="341.1" r="1.85"/><circle cx="863.7" cy="341.1" r="1.85"/><circle cx="871.8" cy="341.1" r="1.85"/><circle cx="879.9" cy="341.2" r="1.85"/><circle cx="888.0" cy="341.2" r="1.85"/><circle cx="896.1" cy="341.2" r="1.85"/><circle cx="904.2" cy="341.2" r="1.85"/><circle cx="912.3" cy="341.2" r="1.85"/><circle cx="920.4" cy="341.2" r="1.85"/><circle cx="928.5" cy="341.3" r="1.85"/><circle cx="936.6" cy="341.3" r="1.85"/><circle cx="944.7" cy="341.3" r="1.85"/><circle cx="952.8" cy="341.3" r="1.85"/><circle cx="960.9" cy="341.3" r="1.85"/><circle cx="969.0" cy="341.3" r="1.85"/><circle cx="977.1" cy="341.4" r="1.85"/><circle cx="985.2" cy="341.4" r="1.85"/><circle cx="993.3" cy="341.4" r="1.85"/><circle cx="1001.4" cy="341.4" r="1.85"/><circle cx="1009.5" cy="341.4" r="1.85"/><circle cx="1017.6" cy="341.4" r="1.85"/><circle cx="1025.7" cy="341.5" r="1.85"/><circle cx="1033.8" cy="341.5" r="1.85"/><circle cx="1041.9" cy="341.5" r="1.85"/><circle cx="1050.0" cy="341.5" r="1.85"/><circle cx="1058.1" cy="341.5" r="1.85"/><circle cx="1066.2" cy="341.5" r="1.85"/><circle cx="1074.3" cy="341.6" r="1.85"/><circle cx="1082.4" cy="341.6" r="1.85"/><circle cx="1090.5" cy="341.6" r="1.85"/><circle cx="1098.6" cy="341.6" r="1.85"/><circle cx="1106.7" cy="341.6" r="1.85"/><circle cx="1114.8" cy="341.6" r="1.85"/><circle cx="1122.9" cy="341.7" r="1.85"/><circle cx="1131.0" cy="341.7" r="1.85"/><circle cx="1139.1" cy="341.7" r="1.85"/><circle cx="1147.2" cy="341.7" r="1.85"/><circle cx="1155.3" cy="341.7" r="1.85"/><circle cx="1163.4" cy="341.7" r="1.85"/><circle cx="1171.5" cy="341.8" r="1.85"/><circle cx="1179.6" cy="341.8" r="1.85"/><circle cx="1187.7" cy="341.8" r="1.85"/><circle cx="1195.8" cy="341.8" r="1.85"/><circle cx="1203.9" cy="341.8" r="1.85"/><circle cx="1212.0" cy="341.8" r="1.85"/><circle cx="1220.1" cy="341.9" r="1.85"/><circle cx="1228.2" cy="341.9" r="1.85"/><circle cx="1236.3" cy="341.9" r="1.85"/><circle cx="1244.4" cy="341.9" r="1.85"/><circle cx="1252.5" cy="341.9" r="1.85"/><circle cx="1260.6" cy="341.9" r="1.85"/><circle cx="1268.7" cy="342.0" r="1.85"/><circle cx="1276.8" cy="342.0" r="1.85"/><circle cx="1284.9" cy="342.0" r="1.85"/><circle cx="846.0" cy="448.0" r="1.85"/><circle cx="854.1" cy="448.0" r="1.85"/><circle cx="862.2" cy="448.0" r="1.85"/><circle cx="870.3" cy="448.0" r="1.85"/><circle cx="878.4" cy="448.0" r="1.85"/><circle cx="886.5" cy="448.0" r="1.85"/><circle cx="894.6" cy="447.9" r="1.85"/><circle cx="902.7" cy="447.9" r="1.85"/><circle cx="910.8" cy="447.9" r="1.85"/><circle cx="918.9" cy="447.9" r="1.85"/><circle cx="927.0" cy="447.9" r="1.85"/><circle cx="935.1" cy="447.9" r="1.85"/><circle cx="943.2" cy="447.9" r="1.85"/><circle cx="951.3" cy="447.9" r="1.85"/><circle cx="959.4" cy="447.9" r="1.85"/><circle cx="967.5" cy="447.9" r="1.85"/><circle cx="975.6" cy="447.9" r="1.85"/><circle cx="983.7" cy="447.8" r="1.85"/><circle cx="991.8" cy="447.8" r="1.85"/><circle cx="999.9" cy="447.8" r="1.85"/><circle cx="1008.0" cy="447.8" r="1.85"/><circle cx="1016.1" cy="447.8" r="1.85"/><circle cx="1024.2" cy="447.8" r="1.85"/><circle cx="1032.3" cy="447.8" r="1.85"/><circle cx="1040.4" cy="447.8" r="1.85"/><circle cx="1048.5" cy="447.8" r="1.85"/><circle cx="1056.6" cy="447.8" r="1.85"/><circle cx="1064.7" cy="447.8" r="1.85"/><circle cx="1072.8" cy="447.7" r="1.85"/><circle cx="1080.9" cy="447.7" r="1.85"/><circle cx="1089.0" cy="447.7" r="1.85"/><circle cx="1097.1" cy="447.7" r="1.85"/><circle cx="1105.2" cy="447.7" r="1.85"/><circle cx="1113.3" cy="447.7" r="1.85"/><circle cx="1121.4" cy="447.7" r="1.85"/><circle cx="1129.5" cy="447.7" r="1.85"/><circle cx="1137.6" cy="447.7" r="1.85"/><circle cx="1145.7" cy="447.7" r="1.85"/><circle cx="1153.8" cy="447.7" r="1.85"/><circle cx="1161.9" cy="447.6" r="1.85"/><circle cx="1170.0" cy="447.6" r="1.85"/><circle cx="1178.1" cy="447.6" r="1.85"/><circle cx="1186.2" cy="447.6" r="1.85"/><circle cx="1194.3" cy="447.6" r="1.85"/><circle cx="1202.4" cy="447.6" r="1.85"/><circle cx="1210.5" cy="447.6" r="1.85"/><circle cx="1218.6" cy="447.6" r="1.85"/><circle cx="1226.7" cy="447.6" r="1.85"/><circle cx="1234.8" cy="447.6" r="1.85"/><circle cx="1242.9" cy="447.6" r="1.85"/><circle cx="1251.0" cy="447.5" r="1.85"/><circle cx="1259.1" cy="447.5" r="1.85"/><circle cx="1267.2" cy="447.5" r="1.85"/><circle cx="1275.3" cy="447.5" r="1.85"/><circle cx="1283.4" cy="447.5" r="1.85"/><circle cx="881.0" cy="549.0" r="1.85"/><circle cx="881.0" cy="540.9" r="1.85"/><circle cx="881.0" cy="532.8" r="1.85"/><circle cx="881.0" cy="524.7" r="1.85"/><circle cx="881.0" cy="516.6" r="1.85"/><circle cx="881.0" cy="508.5" r="1.85"/><circle cx="881.0" cy="500.4" r="1.85"/><circle cx="881.0" cy="492.3" r="1.85"/><circle cx="881.0" cy="484.2" r="1.85"/><circle cx="881.0" cy="476.1" r="1.85"/><circle cx="881.0" cy="468.0" r="1.85"/><circle cx="881.0" cy="459.9" r="1.85"/><circle cx="881.0" cy="451.8" r="1.85"/><circle cx="683.0" cy="430.0" r="1.85"/><circle cx="691.1" cy="430.0" r="1.85"/><circle cx="699.2" cy="430.0" r="1.85"/><circle cx="707.3" cy="430.0" r="1.85"/><circle cx="715.4" cy="430.0" r="1.85"/><circle cx="723.5" cy="430.0" r="1.85"/><circle cx="731.6" cy="430.0" r="1.85"/><circle cx="739.7" cy="430.0" r="1.85"/><circle cx="747.8" cy="430.0" r="1.85"/><circle cx="755.9" cy="430.0" r="1.85"/><circle cx="764.0" cy="430.0" r="1.85"/><circle cx="764.0" cy="430.0" r="1.85"/><circle cx="764.0" cy="438.1" r="1.85"/><circle cx="764.0" cy="446.2" r="1.85"/><circle cx="764.0" cy="454.3" r="1.85"/><circle cx="764.0" cy="462.4" r="1.85"/><circle cx="764.0" cy="470.5" r="1.85"/><circle cx="764.0" cy="478.6" r="1.85"/><circle cx="764.0" cy="486.7" r="1.85"/><circle cx="764.0" cy="494.8" r="1.85"/><circle cx="764.0" cy="502.9" r="1.85"/><circle cx="764.0" cy="511.0" r="1.85"/><circle cx="764.0" cy="519.1" r="1.85"/><circle cx="764.0" cy="527.2" r="1.85"/><circle cx="764.0" cy="535.3" r="1.85"/><circle cx="764.0" cy="543.4" r="1.85"/><circle cx="764.0" cy="551.5" r="1.85"/><circle cx="764.0" cy="559.6" r="1.85"/><circle cx="764.0" cy="567.7" r="1.85"/><circle cx="764.0" cy="575.8" r="1.85"/><circle cx="764.0" cy="583.9" r="1.85"/><circle cx="764.0" cy="592.0" r="1.85"/><circle cx="764.0" cy="600.1" r="1.85"/><circle cx="764.0" cy="608.2" r="1.85"/><circle cx="764.0" cy="616.3" r="1.85"/><circle cx="764.0" cy="624.4" r="1.85"/><circle cx="764.0" cy="632.5" r="1.85"/><circle cx="764.0" cy="640.6" r="1.85"/><circle cx="764.0" cy="648.7" r="1.85"/><circle cx="764.0" cy="652.0" r="1.85"/><circle cx="772.1" cy="652.0" r="1.85"/><circle cx="780.2" cy="652.0" r="1.85"/><circle cx="788.3" cy="652.0" r="1.85"/><circle cx="796.4" cy="652.0" r="1.85"/><circle cx="804.5" cy="652.0" r="1.85"/><circle cx="812.6" cy="652.0" r="1.85"/><circle cx="820.7" cy="652.0" r="1.85"/><circle cx="828.8" cy="652.0" r="1.85"/><circle cx="836.9" cy="652.0" r="1.85"/><circle cx="845.0" cy="652.0" r="1.85"/><circle cx="853.1" cy="652.0" r="1.85"/><circle cx="861.2" cy="652.0" r="1.85"/><circle cx="869.3" cy="652.0" r="1.85"/><circle cx="877.4" cy="652.0" r="1.85"/><circle cx="885.5" cy="652.0" r="1.85"/><circle cx="893.6" cy="652.0" r="1.85"/><circle cx="901.7" cy="652.0" r="1.85"/><circle cx="909.8" cy="652.0" r="1.85"/><circle cx="917.9" cy="652.0" r="1.85"/><circle cx="926.0" cy="652.0" r="1.85"/><circle cx="934.1" cy="652.0" r="1.85"/><circle cx="942.2" cy="652.0" r="1.85"/><circle cx="950.3" cy="652.0" r="1.85"/><circle cx="958.4" cy="652.0" r="1.85"/><circle cx="966.5" cy="652.0" r="1.85"/><circle cx="974.6" cy="652.0" r="1.85"/><circle cx="982.7" cy="652.0" r="1.85"/><circle cx="990.8" cy="652.0" r="1.85"/><circle cx="998.9" cy="652.0" r="1.85"/><circle cx="1007.0" cy="652.0" r="1.85"/><circle cx="1015.1" cy="652.0" r="1.85"/><circle cx="1023.2" cy="652.0" r="1.85"/><circle cx="1031.3" cy="652.0" r="1.85"/><circle cx="1039.4" cy="652.0" r="1.85"/><circle cx="1047.5" cy="652.0" r="1.85"/><circle cx="1055.6" cy="652.0" r="1.85"/><circle cx="1063.7" cy="652.0" r="1.85"/><circle cx="1071.8" cy="652.0" r="1.85"/><circle cx="1079.9" cy="652.0" r="1.85"/><circle cx="1088.0" cy="652.0" r="1.85"/><circle cx="1096.1" cy="652.0" r="1.85"/><circle cx="1104.2" cy="652.0" r="1.85"/><circle cx="1112.3" cy="652.0" r="1.85"/><circle cx="1120.4" cy="652.0" r="1.85"/><circle cx="1128.5" cy="652.0" r="1.85"/><circle cx="1136.6" cy="652.0" r="1.85"/><circle cx="1144.7" cy="652.0" r="1.85"/><circle cx="1152.8" cy="652.0" r="1.85"/><circle cx="1160.9" cy="652.0" r="1.85"/><circle cx="1169.0" cy="652.0" r="1.85"/><circle cx="1177.1" cy="652.0" r="1.85"/><circle cx="1185.2" cy="652.0" r="1.85"/><circle cx="1193.3" cy="652.0" r="1.85"/><circle cx="1201.4" cy="652.0" r="1.85"/><circle cx="1209.5" cy="652.0" r="1.85"/><circle cx="1217.6" cy="652.0" r="1.85"/><circle cx="1225.7" cy="652.0" r="1.85"/><circle cx="1233.8" cy="652.0" r="1.85"/><circle cx="1241.9" cy="652.0" r="1.85"/><circle cx="1250.0" cy="652.0" r="1.85"/><circle cx="1258.1" cy="652.0" r="1.85"/><circle cx="1266.2" cy="652.0" r="1.85"/><circle cx="1274.3" cy="652.0" r="1.85"/><circle cx="1282.4" cy="652.0" r="1.85"/><circle cx="950.0" cy="741.0" r="1.85"/><circle cx="950.0" cy="732.9" r="1.85"/><circle cx="950.0" cy="724.8" r="1.85"/><circle cx="950.0" cy="716.7" r="1.85"/><circle cx="950.0" cy="708.6" r="1.85"/><circle cx="950.0" cy="700.5" r="1.85"/><circle cx="950.0" cy="692.4" r="1.85"/><circle cx="950.0" cy="684.3" r="1.85"/><circle cx="950.0" cy="676.2" r="1.85"/><circle cx="950.0" cy="668.1" r="1.85"/><circle cx="950.0" cy="660.0" r="1.85"/><circle cx="982.0" cy="832.0" r="1.85"/><circle cx="982.0" cy="823.9" r="1.85"/><circle cx="982.0" cy="815.8" r="1.85"/><circle cx="982.0" cy="807.7" r="1.85"/><circle cx="982.0" cy="799.6" r="1.85"/><circle cx="982.0" cy="791.5" r="1.85"/><circle cx="982.0" cy="783.4" r="1.85"/><circle cx="982.0" cy="775.3" r="1.85"/><circle cx="982.0" cy="767.2" r="1.85"/><circle cx="982.0" cy="759.1" r="1.85"/><circle cx="982.0" cy="751.0" r="1.85"/><circle cx="982.0" cy="742.9" r="1.85"/><circle cx="982.0" cy="734.8" r="1.85"/><circle cx="982.0" cy="726.7" r="1.85"/><circle cx="982.0" cy="718.6" r="1.85"/><circle cx="982.0" cy="710.5" r="1.85"/><circle cx="982.0" cy="702.4" r="1.85"/><circle cx="982.0" cy="694.3" r="1.85"/><circle cx="982.0" cy="686.2" r="1.85"/><circle cx="982.0" cy="678.1" r="1.85"/><circle cx="982.0" cy="670.0" r="1.85"/><circle cx="982.0" cy="661.9" r="1.85"/><circle cx="982.0" cy="653.8" r="1.85"/><circle cx="1028.0" cy="935.5" r="1.85"/><circle cx="1036.1" cy="935.5" r="1.85"/><circle cx="1044.2" cy="935.5" r="1.85"/><circle cx="1052.3" cy="935.5" r="1.85"/><circle cx="1060.4" cy="935.5" r="1.85"/><circle cx="1068.5" cy="935.5" r="1.85"/><circle cx="1076.6" cy="935.5" r="1.85"/><circle cx="1084.7" cy="935.5" r="1.85"/><circle cx="1092.8" cy="935.5" r="1.85"/><circle cx="1100.9" cy="935.5" r="1.85"/><circle cx="1109.0" cy="935.5" r="1.85"/><circle cx="1117.1" cy="935.5" r="1.85"/><circle cx="1125.2" cy="935.5" r="1.85"/><circle cx="1133.3" cy="935.5" r="1.85"/><circle cx="1141.4" cy="935.5" r="1.85"/><circle cx="1149.5" cy="935.5" r="1.85"/><circle cx="1157.6" cy="935.5" r="1.85"/><circle cx="1165.7" cy="935.5" r="1.85"/><circle cx="1173.8" cy="935.5" r="1.85"/><circle cx="1181.9" cy="935.5" r="1.85"/><circle cx="1190.0" cy="935.5" r="1.85"/><circle cx="1198.1" cy="935.5" r="1.85"/><circle cx="1206.2" cy="935.5" r="1.85"/><circle cx="1214.3" cy="935.5" r="1.85"/><circle cx="1222.4" cy="935.5" r="1.85"/><circle cx="1230.5" cy="935.5" r="1.85"/><circle cx="1238.6" cy="935.5" r="1.85"/><circle cx="1246.7" cy="935.5" r="1.85"/><circle cx="1254.8" cy="935.5" r="1.85"/><circle cx="1262.9" cy="935.5" r="1.85"/><circle cx="1271.0" cy="935.5" r="1.85"/><circle cx="1279.1" cy="935.5" r="1.85"/><circle cx="1287.2" cy="935.5" r="1.85"/></g>
<g fill="#d9d9d9" clip-path="url(#cDev)"><circle cx="573.0" cy="94.5" r="1.85"/><circle cx="581.1" cy="94.5" r="1.85"/><circle cx="589.2" cy="94.5" r="1.85"/><circle cx="597.3" cy="94.5" r="1.85"/><circle cx="605.4" cy="94.5" r="1.85"/><circle cx="613.5" cy="94.5" r="1.85"/><circle cx="621.6" cy="94.5" r="1.85"/><circle cx="629.7" cy="94.5" r="1.85"/><circle cx="637.8" cy="94.5" r="1.85"/><circle cx="645.9" cy="94.5" r="1.85"/><circle cx="654.0" cy="94.5" r="1.85"/><circle cx="662.1" cy="94.5" r="1.85"/><circle cx="670.2" cy="94.5" r="1.85"/><circle cx="678.3" cy="94.5" r="1.85"/><circle cx="686.4" cy="94.5" r="1.85"/><circle cx="694.5" cy="94.5" r="1.85"/><circle cx="702.6" cy="94.5" r="1.85"/><circle cx="710.7" cy="94.5" r="1.85"/><circle cx="718.8" cy="94.5" r="1.85"/><circle cx="726.9" cy="94.5" r="1.85"/><circle cx="735.0" cy="94.5" r="1.85"/><circle cx="743.1" cy="94.5" r="1.85"/><circle cx="751.2" cy="94.5" r="1.85"/><circle cx="759.3" cy="94.5" r="1.85"/><circle cx="767.4" cy="94.5" r="1.85"/><circle cx="775.5" cy="94.5" r="1.85"/><circle cx="783.6" cy="94.5" r="1.85"/><circle cx="791.7" cy="94.5" r="1.85"/><circle cx="799.8" cy="94.5" r="1.85"/><circle cx="807.9" cy="94.5" r="1.85"/><circle cx="816.0" cy="94.5" r="1.85"/><circle cx="824.1" cy="94.5" r="1.85"/><circle cx="832.2" cy="94.5" r="1.85"/><circle cx="840.3" cy="94.5" r="1.85"/><circle cx="848.4" cy="94.5" r="1.85"/><circle cx="856.5" cy="94.5" r="1.85"/><circle cx="585.0" cy="150.0" r="1.85"/><circle cx="593.1" cy="150.0" r="1.85"/><circle cx="601.2" cy="150.0" r="1.85"/><circle cx="609.3" cy="150.0" r="1.85"/><circle cx="617.4" cy="150.0" r="1.85"/><circle cx="625.5" cy="150.0" r="1.85"/><circle cx="633.6" cy="150.0" r="1.85"/><circle cx="641.7" cy="150.0" r="1.85"/><circle cx="649.8" cy="150.0" r="1.85"/><circle cx="657.9" cy="150.0" r="1.85"/><circle cx="666.0" cy="150.0" r="1.85"/><circle cx="674.1" cy="150.0" r="1.85"/><circle cx="682.2" cy="150.0" r="1.85"/><circle cx="690.3" cy="150.0" r="1.85"/><circle cx="698.4" cy="150.0" r="1.85"/><circle cx="706.5" cy="150.0" r="1.85"/><circle cx="714.6" cy="150.0" r="1.85"/><circle cx="722.7" cy="150.0" r="1.85"/><circle cx="730.8" cy="150.0" r="1.85"/><circle cx="738.9" cy="150.0" r="1.85"/><circle cx="747.0" cy="150.0" r="1.85"/><circle cx="755.1" cy="150.0" r="1.85"/><circle cx="763.2" cy="150.0" r="1.85"/><circle cx="771.3" cy="150.0" r="1.85"/><circle cx="779.4" cy="150.0" r="1.85"/><circle cx="787.5" cy="150.0" r="1.85"/><circle cx="795.6" cy="150.0" r="1.85"/><circle cx="803.7" cy="150.0" r="1.85"/><circle cx="811.8" cy="150.0" r="1.85"/><circle cx="819.9" cy="150.0" r="1.85"/><circle cx="828.0" cy="150.0" r="1.85"/><circle cx="836.1" cy="150.0" r="1.85"/><circle cx="844.2" cy="150.0" r="1.85"/><circle cx="852.3" cy="150.0" r="1.85"/><circle cx="860.4" cy="150.0" r="1.85"/><circle cx="868.5" cy="150.0" r="1.85"/><circle cx="876.6" cy="150.0" r="1.85"/><circle cx="884.7" cy="150.0" r="1.85"/><circle cx="892.8" cy="150.0" r="1.85"/><circle cx="900.9" cy="150.0" r="1.85"/><circle cx="909.0" cy="150.0" r="1.85"/><circle cx="917.1" cy="150.0" r="1.85"/><circle cx="925.2" cy="150.0" r="1.85"/><circle cx="933.3" cy="150.0" r="1.85"/><circle cx="941.4" cy="150.0" r="1.85"/><circle cx="949.5" cy="150.0" r="1.85"/><circle cx="957.6" cy="150.0" r="1.85"/><circle cx="965.7" cy="150.0" r="1.85"/><circle cx="973.8" cy="150.0" r="1.85"/><circle cx="625.0" cy="289.0" r="1.85"/><circle cx="625.0" cy="280.9" r="1.85"/><circle cx="625.0" cy="272.8" r="1.85"/><circle cx="625.0" cy="264.7" r="1.85"/><circle cx="625.0" cy="256.6" r="1.85"/><circle cx="625.0" cy="248.5" r="1.85"/><circle cx="625.0" cy="240.4" r="1.85"/><circle cx="625.0" cy="232.3" r="1.85"/><circle cx="625.0" cy="224.2" r="1.85"/><circle cx="625.0" cy="216.1" r="1.85"/><circle cx="625.0" cy="208.0" r="1.85"/><circle cx="625.0" cy="199.9" r="1.85"/><circle cx="625.0" cy="191.8" r="1.85"/><circle cx="625.0" cy="183.7" r="1.85"/><circle cx="625.0" cy="175.6" r="1.85"/><circle cx="625.0" cy="167.5" r="1.85"/><circle cx="625.0" cy="159.4" r="1.85"/><circle cx="625.0" cy="151.3" r="1.85"/><circle cx="755.0" cy="196.0" r="1.85"/><circle cx="763.1" cy="196.0" r="1.85"/><circle cx="771.2" cy="196.0" r="1.85"/><circle cx="779.3" cy="196.0" r="1.85"/><circle cx="787.4" cy="196.0" r="1.85"/><circle cx="795.5" cy="196.0" r="1.85"/><circle cx="803.6" cy="196.1" r="1.85"/><circle cx="811.7" cy="196.1" r="1.85"/><circle cx="819.8" cy="196.1" r="1.85"/><circle cx="827.9" cy="196.1" r="1.85"/><circle cx="836.0" cy="196.1" r="1.85"/><circle cx="844.1" cy="196.1" r="1.85"/><circle cx="852.2" cy="196.1" r="1.85"/><circle cx="860.3" cy="196.1" r="1.85"/><circle cx="868.4" cy="196.1" r="1.85"/><circle cx="876.5" cy="196.1" r="1.85"/><circle cx="884.6" cy="196.1" r="1.85"/><circle cx="892.7" cy="196.2" r="1.85"/><circle cx="900.8" cy="196.2" r="1.85"/><circle cx="908.9" cy="196.2" r="1.85"/><circle cx="917.0" cy="196.2" r="1.85"/><circle cx="925.1" cy="196.2" r="1.85"/><circle cx="933.2" cy="196.2" r="1.85"/><circle cx="941.3" cy="196.2" r="1.85"/><circle cx="949.4" cy="196.2" r="1.85"/><circle cx="957.5" cy="196.2" r="1.85"/><circle cx="965.6" cy="196.2" r="1.85"/><circle cx="973.7" cy="196.2" r="1.85"/><circle cx="981.8" cy="196.3" r="1.85"/><circle cx="989.9" cy="196.3" r="1.85"/><circle cx="998.0" cy="196.3" r="1.85"/><circle cx="1006.1" cy="196.3" r="1.85"/><circle cx="1014.2" cy="196.3" r="1.85"/><circle cx="1022.3" cy="196.3" r="1.85"/><circle cx="1030.4" cy="196.3" r="1.85"/><circle cx="1038.5" cy="196.3" r="1.85"/><circle cx="1046.6" cy="196.3" r="1.85"/><circle cx="1054.7" cy="196.3" r="1.85"/><circle cx="1062.8" cy="196.3" r="1.85"/><circle cx="1070.9" cy="196.4" r="1.85"/><circle cx="1079.0" cy="196.4" r="1.85"/><circle cx="1087.1" cy="196.4" r="1.85"/><circle cx="1095.2" cy="196.4" r="1.85"/><circle cx="1103.3" cy="196.4" r="1.85"/><circle cx="1111.4" cy="196.4" r="1.85"/><circle cx="1119.5" cy="196.4" r="1.85"/><circle cx="1127.6" cy="196.4" r="1.85"/><circle cx="1135.7" cy="196.4" r="1.85"/><circle cx="1143.8" cy="196.4" r="1.85"/><circle cx="1151.9" cy="196.4" r="1.85"/><circle cx="1160.0" cy="196.5" r="1.85"/><circle cx="1168.1" cy="196.5" r="1.85"/><circle cx="1176.2" cy="196.5" r="1.85"/><circle cx="1184.3" cy="196.5" r="1.85"/><circle cx="1192.4" cy="196.5" r="1.85"/><circle cx="1200.5" cy="196.5" r="1.85"/><circle cx="770.0" cy="259.0" r="1.85"/><circle cx="778.1" cy="259.0" r="1.85"/><circle cx="786.2" cy="259.0" r="1.85"/><circle cx="794.3" cy="259.0" r="1.85"/><circle cx="802.4" cy="259.0" r="1.85"/><circle cx="810.5" cy="259.0" r="1.85"/><circle cx="818.6" cy="259.0" r="1.85"/><circle cx="826.7" cy="259.0" r="1.85"/><circle cx="834.8" cy="259.0" r="1.85"/><circle cx="842.9" cy="259.0" r="1.85"/><circle cx="851.0" cy="259.0" r="1.85"/><circle cx="859.1" cy="259.0" r="1.85"/><circle cx="867.2" cy="259.0" r="1.85"/><circle cx="875.3" cy="259.0" r="1.85"/><circle cx="883.4" cy="259.0" r="1.85"/><circle cx="891.5" cy="259.0" r="1.85"/><circle cx="899.6" cy="259.0" r="1.85"/><circle cx="907.7" cy="259.0" r="1.85"/><circle cx="915.8" cy="259.0" r="1.85"/><circle cx="923.9" cy="259.0" r="1.85"/><circle cx="932.0" cy="259.0" r="1.85"/><circle cx="940.1" cy="259.0" r="1.85"/><circle cx="948.2" cy="259.0" r="1.85"/><circle cx="956.3" cy="259.0" r="1.85"/><circle cx="964.4" cy="259.0" r="1.85"/><circle cx="972.5" cy="259.0" r="1.85"/><circle cx="980.6" cy="259.0" r="1.85"/><circle cx="988.7" cy="259.0" r="1.85"/><circle cx="996.8" cy="259.0" r="1.85"/><circle cx="1004.9" cy="259.0" r="1.85"/><circle cx="1013.0" cy="259.0" r="1.85"/><circle cx="1021.1" cy="259.0" r="1.85"/><circle cx="1029.2" cy="259.0" r="1.85"/><circle cx="1037.3" cy="259.0" r="1.85"/><circle cx="1045.4" cy="259.0" r="1.85"/><circle cx="1053.5" cy="259.0" r="1.85"/><circle cx="1061.6" cy="259.0" r="1.85"/><circle cx="1069.7" cy="259.0" r="1.85"/><circle cx="1077.8" cy="259.0" r="1.85"/><circle cx="1085.9" cy="259.0" r="1.85"/><circle cx="1094.0" cy="259.0" r="1.85"/><circle cx="1102.1" cy="259.0" r="1.85"/><circle cx="1110.2" cy="259.0" r="1.85"/><circle cx="1118.3" cy="259.0" r="1.85"/><circle cx="1126.4" cy="259.0" r="1.85"/><circle cx="1134.5" cy="259.0" r="1.85"/><circle cx="1142.6" cy="259.0" r="1.85"/><circle cx="1150.7" cy="259.0" r="1.85"/><circle cx="1158.8" cy="259.0" r="1.85"/><circle cx="1166.9" cy="259.0" r="1.85"/><circle cx="1175.0" cy="259.0" r="1.85"/><circle cx="1183.1" cy="259.0" r="1.85"/><circle cx="1191.2" cy="259.0" r="1.85"/><circle cx="1199.3" cy="259.0" r="1.85"/><circle cx="1207.4" cy="259.0" r="1.85"/><circle cx="1215.5" cy="259.0" r="1.85"/><circle cx="1223.6" cy="259.0" r="1.85"/><circle cx="1231.7" cy="259.0" r="1.85"/><circle cx="1239.8" cy="259.0" r="1.85"/><circle cx="1247.9" cy="259.0" r="1.85"/><circle cx="1256.0" cy="259.0" r="1.85"/><circle cx="1264.1" cy="259.0" r="1.85"/><circle cx="1272.2" cy="259.0" r="1.85"/><circle cx="1280.3" cy="259.0" r="1.85"/><circle cx="807.0" cy="341.0" r="1.85"/><circle cx="815.1" cy="341.0" r="1.85"/><circle cx="823.2" cy="341.0" r="1.85"/><circle cx="831.3" cy="341.1" r="1.85"/><circle cx="839.4" cy="341.1" r="1.85"/><circle cx="847.5" cy="341.1" r="1.85"/><circle cx="855.6" cy="341.1" r="1.85"/><circle cx="863.7" cy="341.1" r="1.85"/><circle cx="871.8" cy="341.1" r="1.85"/><circle cx="879.9" cy="341.2" r="1.85"/><circle cx="888.0" cy="341.2" r="1.85"/><circle cx="896.1" cy="341.2" r="1.85"/><circle cx="904.2" cy="341.2" r="1.85"/><circle cx="912.3" cy="341.2" r="1.85"/><circle cx="920.4" cy="341.2" r="1.85"/><circle cx="928.5" cy="341.3" r="1.85"/><circle cx="936.6" cy="341.3" r="1.85"/><circle cx="944.7" cy="341.3" r="1.85"/><circle cx="952.8" cy="341.3" r="1.85"/><circle cx="960.9" cy="341.3" r="1.85"/><circle cx="969.0" cy="341.3" r="1.85"/><circle cx="977.1" cy="341.4" r="1.85"/><circle cx="985.2" cy="341.4" r="1.85"/><circle cx="993.3" cy="341.4" r="1.85"/><circle cx="1001.4" cy="341.4" r="1.85"/><circle cx="1009.5" cy="341.4" r="1.85"/><circle cx="1017.6" cy="341.4" r="1.85"/><circle cx="1025.7" cy="341.5" r="1.85"/><circle cx="1033.8" cy="341.5" r="1.85"/><circle cx="1041.9" cy="341.5" r="1.85"/><circle cx="1050.0" cy="341.5" r="1.85"/><circle cx="1058.1" cy="341.5" r="1.85"/><circle cx="1066.2" cy="341.5" r="1.85"/><circle cx="1074.3" cy="341.6" r="1.85"/><circle cx="1082.4" cy="341.6" r="1.85"/><circle cx="1090.5" cy="341.6" r="1.85"/><circle cx="1098.6" cy="341.6" r="1.85"/><circle cx="1106.7" cy="341.6" r="1.85"/><circle cx="1114.8" cy="341.6" r="1.85"/><circle cx="1122.9" cy="341.7" r="1.85"/><circle cx="1131.0" cy="341.7" r="1.85"/><circle cx="1139.1" cy="341.7" r="1.85"/><circle cx="1147.2" cy="341.7" r="1.85"/><circle cx="1155.3" cy="341.7" r="1.85"/><circle cx="1163.4" cy="341.7" r="1.85"/><circle cx="1171.5" cy="341.8" r="1.85"/><circle cx="1179.6" cy="341.8" r="1.85"/><circle cx="1187.7" cy="341.8" r="1.85"/><circle cx="1195.8" cy="341.8" r="1.85"/><circle cx="1203.9" cy="341.8" r="1.85"/><circle cx="1212.0" cy="341.8" r="1.85"/><circle cx="1220.1" cy="341.9" r="1.85"/><circle cx="1228.2" cy="341.9" r="1.85"/><circle cx="1236.3" cy="341.9" r="1.85"/><circle cx="1244.4" cy="341.9" r="1.85"/><circle cx="1252.5" cy="341.9" r="1.85"/><circle cx="1260.6" cy="341.9" r="1.85"/><circle cx="1268.7" cy="342.0" r="1.85"/><circle cx="1276.8" cy="342.0" r="1.85"/><circle cx="1284.9" cy="342.0" r="1.85"/><circle cx="846.0" cy="448.0" r="1.85"/><circle cx="854.1" cy="448.0" r="1.85"/><circle cx="862.2" cy="448.0" r="1.85"/><circle cx="870.3" cy="448.0" r="1.85"/><circle cx="878.4" cy="448.0" r="1.85"/><circle cx="886.5" cy="448.0" r="1.85"/><circle cx="894.6" cy="447.9" r="1.85"/><circle cx="902.7" cy="447.9" r="1.85"/><circle cx="910.8" cy="447.9" r="1.85"/><circle cx="918.9" cy="447.9" r="1.85"/><circle cx="927.0" cy="447.9" r="1.85"/><circle cx="935.1" cy="447.9" r="1.85"/><circle cx="943.2" cy="447.9" r="1.85"/><circle cx="951.3" cy="447.9" r="1.85"/><circle cx="959.4" cy="447.9" r="1.85"/><circle cx="967.5" cy="447.9" r="1.85"/><circle cx="975.6" cy="447.9" r="1.85"/><circle cx="983.7" cy="447.8" r="1.85"/><circle cx="991.8" cy="447.8" r="1.85"/><circle cx="999.9" cy="447.8" r="1.85"/><circle cx="1008.0" cy="447.8" r="1.85"/><circle cx="1016.1" cy="447.8" r="1.85"/><circle cx="1024.2" cy="447.8" r="1.85"/><circle cx="1032.3" cy="447.8" r="1.85"/><circle cx="1040.4" cy="447.8" r="1.85"/><circle cx="1048.5" cy="447.8" r="1.85"/><circle cx="1056.6" cy="447.8" r="1.85"/><circle cx="1064.7" cy="447.8" r="1.85"/><circle cx="1072.8" cy="447.7" r="1.85"/><circle cx="1080.9" cy="447.7" r="1.85"/><circle cx="1089.0" cy="447.7" r="1.85"/><circle cx="1097.1" cy="447.7" r="1.85"/><circle cx="1105.2" cy="447.7" r="1.85"/><circle cx="1113.3" cy="447.7" r="1.85"/><circle cx="1121.4" cy="447.7" r="1.85"/><circle cx="1129.5" cy="447.7" r="1.85"/><circle cx="1137.6" cy="447.7" r="1.85"/><circle cx="1145.7" cy="447.7" r="1.85"/><circle cx="1153.8" cy="447.7" r="1.85"/><circle cx="1161.9" cy="447.6" r="1.85"/><circle cx="1170.0" cy="447.6" r="1.85"/><circle cx="1178.1" cy="447.6" r="1.85"/><circle cx="1186.2" cy="447.6" r="1.85"/><circle cx="1194.3" cy="447.6" r="1.85"/><circle cx="1202.4" cy="447.6" r="1.85"/><circle cx="1210.5" cy="447.6" r="1.85"/><circle cx="1218.6" cy="447.6" r="1.85"/><circle cx="1226.7" cy="447.6" r="1.85"/><circle cx="1234.8" cy="447.6" r="1.85"/><circle cx="1242.9" cy="447.6" r="1.85"/><circle cx="1251.0" cy="447.5" r="1.85"/><circle cx="1259.1" cy="447.5" r="1.85"/><circle cx="1267.2" cy="447.5" r="1.85"/><circle cx="1275.3" cy="447.5" r="1.85"/><circle cx="1283.4" cy="447.5" r="1.85"/><circle cx="881.0" cy="549.0" r="1.85"/><circle cx="881.0" cy="540.9" r="1.85"/><circle cx="881.0" cy="532.8" r="1.85"/><circle cx="881.0" cy="524.7" r="1.85"/><circle cx="881.0" cy="516.6" r="1.85"/><circle cx="881.0" cy="508.5" r="1.85"/><circle cx="881.0" cy="500.4" r="1.85"/><circle cx="881.0" cy="492.3" r="1.85"/><circle cx="881.0" cy="484.2" r="1.85"/><circle cx="881.0" cy="476.1" r="1.85"/><circle cx="881.0" cy="468.0" r="1.85"/><circle cx="881.0" cy="459.9" r="1.85"/><circle cx="881.0" cy="451.8" r="1.85"/><circle cx="683.0" cy="430.0" r="1.85"/><circle cx="691.1" cy="430.0" r="1.85"/><circle cx="699.2" cy="430.0" r="1.85"/><circle cx="707.3" cy="430.0" r="1.85"/><circle cx="715.4" cy="430.0" r="1.85"/><circle cx="723.5" cy="430.0" r="1.85"/><circle cx="731.6" cy="430.0" r="1.85"/><circle cx="739.7" cy="430.0" r="1.85"/><circle cx="747.8" cy="430.0" r="1.85"/><circle cx="755.9" cy="430.0" r="1.85"/><circle cx="764.0" cy="430.0" r="1.85"/><circle cx="764.0" cy="430.0" r="1.85"/><circle cx="764.0" cy="438.1" r="1.85"/><circle cx="764.0" cy="446.2" r="1.85"/><circle cx="764.0" cy="454.3" r="1.85"/><circle cx="764.0" cy="462.4" r="1.85"/><circle cx="764.0" cy="470.5" r="1.85"/><circle cx="764.0" cy="478.6" r="1.85"/><circle cx="764.0" cy="486.7" r="1.85"/><circle cx="764.0" cy="494.8" r="1.85"/><circle cx="764.0" cy="502.9" r="1.85"/><circle cx="764.0" cy="511.0" r="1.85"/><circle cx="764.0" cy="519.1" r="1.85"/><circle cx="764.0" cy="527.2" r="1.85"/><circle cx="764.0" cy="535.3" r="1.85"/><circle cx="764.0" cy="543.4" r="1.85"/><circle cx="764.0" cy="551.5" r="1.85"/><circle cx="764.0" cy="559.6" r="1.85"/><circle cx="764.0" cy="567.7" r="1.85"/><circle cx="764.0" cy="575.8" r="1.85"/><circle cx="764.0" cy="583.9" r="1.85"/><circle cx="764.0" cy="592.0" r="1.85"/><circle cx="764.0" cy="600.1" r="1.85"/><circle cx="764.0" cy="608.2" r="1.85"/><circle cx="764.0" cy="616.3" r="1.85"/><circle cx="764.0" cy="624.4" r="1.85"/><circle cx="764.0" cy="632.5" r="1.85"/><circle cx="764.0" cy="640.6" r="1.85"/><circle cx="764.0" cy="648.7" r="1.85"/><circle cx="764.0" cy="652.0" r="1.85"/><circle cx="772.1" cy="652.0" r="1.85"/><circle cx="780.2" cy="652.0" r="1.85"/><circle cx="788.3" cy="652.0" r="1.85"/><circle cx="796.4" cy="652.0" r="1.85"/><circle cx="804.5" cy="652.0" r="1.85"/><circle cx="812.6" cy="652.0" r="1.85"/><circle cx="820.7" cy="652.0" r="1.85"/><circle cx="828.8" cy="652.0" r="1.85"/><circle cx="836.9" cy="652.0" r="1.85"/><circle cx="845.0" cy="652.0" r="1.85"/><circle cx="853.1" cy="652.0" r="1.85"/><circle cx="861.2" cy="652.0" r="1.85"/><circle cx="869.3" cy="652.0" r="1.85"/><circle cx="877.4" cy="652.0" r="1.85"/><circle cx="885.5" cy="652.0" r="1.85"/><circle cx="893.6" cy="652.0" r="1.85"/><circle cx="901.7" cy="652.0" r="1.85"/><circle cx="909.8" cy="652.0" r="1.85"/><circle cx="917.9" cy="652.0" r="1.85"/><circle cx="926.0" cy="652.0" r="1.85"/><circle cx="934.1" cy="652.0" r="1.85"/><circle cx="942.2" cy="652.0" r="1.85"/><circle cx="950.3" cy="652.0" r="1.85"/><circle cx="958.4" cy="652.0" r="1.85"/><circle cx="966.5" cy="652.0" r="1.85"/><circle cx="974.6" cy="652.0" r="1.85"/><circle cx="982.7" cy="652.0" r="1.85"/><circle cx="990.8" cy="652.0" r="1.85"/><circle cx="998.9" cy="652.0" r="1.85"/><circle cx="1007.0" cy="652.0" r="1.85"/><circle cx="1015.1" cy="652.0" r="1.85"/><circle cx="1023.2" cy="652.0" r="1.85"/><circle cx="1031.3" cy="652.0" r="1.85"/><circle cx="1039.4" cy="652.0" r="1.85"/><circle cx="1047.5" cy="652.0" r="1.85"/><circle cx="1055.6" cy="652.0" r="1.85"/><circle cx="1063.7" cy="652.0" r="1.85"/><circle cx="1071.8" cy="652.0" r="1.85"/><circle cx="1079.9" cy="652.0" r="1.85"/><circle cx="1088.0" cy="652.0" r="1.85"/><circle cx="1096.1" cy="652.0" r="1.85"/><circle cx="1104.2" cy="652.0" r="1.85"/><circle cx="1112.3" cy="652.0" r="1.85"/><circle cx="1120.4" cy="652.0" r="1.85"/><circle cx="1128.5" cy="652.0" r="1.85"/><circle cx="1136.6" cy="652.0" r="1.85"/><circle cx="1144.7" cy="652.0" r="1.85"/><circle cx="1152.8" cy="652.0" r="1.85"/><circle cx="1160.9" cy="652.0" r="1.85"/><circle cx="1169.0" cy="652.0" r="1.85"/><circle cx="1177.1" cy="652.0" r="1.85"/><circle cx="1185.2" cy="652.0" r="1.85"/><circle cx="1193.3" cy="652.0" r="1.85"/><circle cx="1201.4" cy="652.0" r="1.85"/><circle cx="1209.5" cy="652.0" r="1.85"/><circle cx="1217.6" cy="652.0" r="1.85"/><circle cx="1225.7" cy="652.0" r="1.85"/><circle cx="1233.8" cy="652.0" r="1.85"/><circle cx="1241.9" cy="652.0" r="1.85"/><circle cx="1250.0" cy="652.0" r="1.85"/><circle cx="1258.1" cy="652.0" r="1.85"/><circle cx="1266.2" cy="652.0" r="1.85"/><circle cx="1274.3" cy="652.0" r="1.85"/><circle cx="1282.4" cy="652.0" r="1.85"/><circle cx="950.0" cy="741.0" r="1.85"/><circle cx="950.0" cy="732.9" r="1.85"/><circle cx="950.0" cy="724.8" r="1.85"/><circle cx="950.0" cy="716.7" r="1.85"/><circle cx="950.0" cy="708.6" r="1.85"/><circle cx="950.0" cy="700.5" r="1.85"/><circle cx="950.0" cy="692.4" r="1.85"/><circle cx="950.0" cy="684.3" r="1.85"/><circle cx="950.0" cy="676.2" r="1.85"/><circle cx="950.0" cy="668.1" r="1.85"/><circle cx="950.0" cy="660.0" r="1.85"/><circle cx="982.0" cy="832.0" r="1.85"/><circle cx="982.0" cy="823.9" r="1.85"/><circle cx="982.0" cy="815.8" r="1.85"/><circle cx="982.0" cy="807.7" r="1.85"/><circle cx="982.0" cy="799.6" r="1.85"/><circle cx="982.0" cy="791.5" r="1.85"/><circle cx="982.0" cy="783.4" r="1.85"/><circle cx="982.0" cy="775.3" r="1.85"/><circle cx="982.0" cy="767.2" r="1.85"/><circle cx="982.0" cy="759.1" r="1.85"/><circle cx="982.0" cy="751.0" r="1.85"/><circle cx="982.0" cy="742.9" r="1.85"/><circle cx="982.0" cy="734.8" r="1.85"/><circle cx="982.0" cy="726.7" r="1.85"/><circle cx="982.0" cy="718.6" r="1.85"/><circle cx="982.0" cy="710.5" r="1.85"/><circle cx="982.0" cy="702.4" r="1.85"/><circle cx="982.0" cy="694.3" r="1.85"/><circle cx="982.0" cy="686.2" r="1.85"/><circle cx="982.0" cy="678.1" r="1.85"/><circle cx="982.0" cy="670.0" r="1.85"/><circle cx="982.0" cy="661.9" r="1.85"/><circle cx="982.0" cy="653.8" r="1.85"/><circle cx="1028.0" cy="935.5" r="1.85"/><circle cx="1036.1" cy="935.5" r="1.85"/><circle cx="1044.2" cy="935.5" r="1.85"/><circle cx="1052.3" cy="935.5" r="1.85"/><circle cx="1060.4" cy="935.5" r="1.85"/><circle cx="1068.5" cy="935.5" r="1.85"/><circle cx="1076.6" cy="935.5" r="1.85"/><circle cx="1084.7" cy="935.5" r="1.85"/><circle cx="1092.8" cy="935.5" r="1.85"/><circle cx="1100.9" cy="935.5" r="1.85"/><circle cx="1109.0" cy="935.5" r="1.85"/><circle cx="1117.1" cy="935.5" r="1.85"/><circle cx="1125.2" cy="935.5" r="1.85"/><circle cx="1133.3" cy="935.5" r="1.85"/><circle cx="1141.4" cy="935.5" r="1.85"/><circle cx="1149.5" cy="935.5" r="1.85"/><circle cx="1157.6" cy="935.5" r="1.85"/><circle cx="1165.7" cy="935.5" r="1.85"/><circle cx="1173.8" cy="935.5" r="1.85"/><circle cx="1181.9" cy="935.5" r="1.85"/><circle cx="1190.0" cy="935.5" r="1.85"/><circle cx="1198.1" cy="935.5" r="1.85"/><circle cx="1206.2" cy="935.5" r="1.85"/><circle cx="1214.3" cy="935.5" r="1.85"/><circle cx="1222.4" cy="935.5" r="1.85"/><circle cx="1230.5" cy="935.5" r="1.85"/><circle cx="1238.6" cy="935.5" r="1.85"/><circle cx="1246.7" cy="935.5" r="1.85"/><circle cx="1254.8" cy="935.5" r="1.85"/><circle cx="1262.9" cy="935.5" r="1.85"/><circle cx="1271.0" cy="935.5" r="1.85"/><circle cx="1279.1" cy="935.5" r="1.85"/><circle cx="1287.2" cy="935.5" r="1.85"/></g>
<circle cx="573" cy="94.5" r="8.5" fill="#1a7ee6" opacity="0.55" filter="url(#glow)"/><circle cx="573" cy="94.5" r="7.6" fill="url(#hot)"/>
<circle cx="585" cy="150" r="8.5" fill="#1a7ee6" opacity="0.55" filter="url(#glow)"/><circle cx="585" cy="150" r="7.6" fill="url(#hot)"/>
<circle cx="625" cy="289" r="8.5" fill="#1a7ee6" opacity="0.55" filter="url(#glow)"/><circle cx="625" cy="289" r="7.6" fill="url(#hot)"/>
<circle cx="683" cy="430" r="8.5" fill="#1a7ee6" opacity="0.55" filter="url(#glow)"/><circle cx="683" cy="430" r="7.6" fill="url(#hot)"/>
<circle cx="755" cy="196" r="8.5" fill="#1a7ee6" opacity="0.55" filter="url(#glow)"/><circle cx="755" cy="196" r="7.6" fill="url(#hot)"/>
<circle cx="770" cy="259" r="8.5" fill="#1a7ee6" opacity="0.55" filter="url(#glow)"/><circle cx="770" cy="259" r="7.6" fill="url(#hot)"/>
<circle cx="807" cy="341" r="8.5" fill="#1a7ee6" opacity="0.55" filter="url(#glow)"/><circle cx="807" cy="341" r="7.6" fill="url(#hot)"/>
<circle cx="846" cy="448" r="8.5" fill="#1a7ee6" opacity="0.55" filter="url(#glow)"/><circle cx="846" cy="448" r="7.6" fill="url(#hot)"/>
<circle cx="881" cy="549" r="8.5" fill="#1a7ee6" opacity="0.55" filter="url(#glow)"/><circle cx="881" cy="549" r="7.6" fill="url(#hot)"/>
<circle cx="918" cy="651" r="8.5" fill="#1a7ee6" opacity="0.55" filter="url(#glow)"/><circle cx="918" cy="651" r="7.6" fill="url(#hot)"/>
<circle cx="949" cy="741" r="8.5" fill="#1a7ee6" opacity="0.55" filter="url(#glow)"/><circle cx="949" cy="741" r="7.6" fill="url(#hot)"/>
<circle cx="981" cy="832" r="8.5" fill="#1a7ee6" opacity="0.55" filter="url(#glow)"/><circle cx="981" cy="832" r="7.6" fill="url(#hot)"/>
<circle cx="1028" cy="935.5" r="8.5" fill="#1a7ee6" opacity="0.55" filter="url(#glow)"/><circle cx="1028" cy="935.5" r="7.6" fill="url(#hot)"/>
<text x="690" y="89" font-size="22.5" fill="#151515" stroke="#fff" stroke-width="0.6" textLength="171.0" lengthAdjust="spacingAndGlyphs">Audio/Mic Port</text>
<circle cx="895" cy="94.3" r="32.7" fill="#1f87e4"/>
<g transform="translate(895 94.3)"><path d="M -13.3 -3.5 V -5.5 A 13.3 13.5 0 0 1 13.3 -5.5 V -3.5" fill="none" stroke="#d6f4ff" stroke-width="2.2"/>
<line x1="-14.8" y1="-1.5" x2="-14.8" y2="8.5" stroke="#1a5fa0" stroke-width="1.2"/><line x1="14.8" y1="-1.5" x2="14.8" y2="8.5" stroke="#1a5fa0" stroke-width="1.2"/>
<path d="M -12.3 -4.5 L -12.3 10.5 Q -20 9.5 -20 3 Q -20 -3.5 -12.3 -4.5 Z" fill="none" stroke="#d6f4ff" stroke-width="2.2" stroke-linejoin="round"/>
<path d="M 12.3 -4.5 L 12.3 10.5 Q 20 9.5 20 3 Q 20 -3.5 12.3 -4.5 Z" fill="none" stroke="#d6f4ff" stroke-width="2.2" stroke-linejoin="round"/>
<path d="M 14 10 Q 14 16 5 16" fill="none" stroke="#d6f4ff" stroke-width="2"/>
<rect x="-4.5" y="13.6" width="9" height="4.6" rx="2.3" fill="none" stroke="#d6f4ff" stroke-width="1.9"/></g>
<text x="803.6" y="145.2" font-size="22.5" fill="#151515" stroke="#fff" stroke-width="0.6" textLength="174.9" lengthAdjust="spacingAndGlyphs">SD/TF Card Slot</text>
<circle cx="1012" cy="150.5" r="32.7" fill="#1f87e4"/>
<g transform="translate(1012 150.5)"><path d="M -8.5 -18 H 13.5 V 16 H -13.5 V -13 Z" fill="none" stroke="#d6f4ff" stroke-width="2.1" stroke-linejoin="round"/>
<g fill="#d6f4ff"><rect x="-10.4" y="-14.5" width="1.5" height="5"/><rect x="-6.4" y="-15.5" width="1.5" height="6"/><rect x="-2.4" y="-15.5" width="1.5" height="6"/><rect x="1.6" y="-15.5" width="1.5" height="6"/><rect x="5.6" y="-15.5" width="1.5" height="6"/><rect x="9.6" y="-15.5" width="1.5" height="6"/></g>
<text x="-10" y="13" font-size="7.5" font-weight="bold" font-style="italic" fill="#d6f4ff">SD</text></g>
<text x="1134.6" y="191.8" font-size="22.5" fill="#151515" stroke="#fff" stroke-width="0.6" textLength="63.4" lengthAdjust="spacingAndGlyphs">DC IN</text>
<circle cx="1238.5" cy="195.8" r="32.7" fill="#1f87e4"/>
<g transform="translate(1238.5 195.8)"><g transform="rotate(45)"><path d="M -15 -6.5 H 14.5 L 12 -3.2 V 3 Q 12 11 4 12.5 V 14.5 H -5 V 12.5 Q -12.5 11 -12.5 3 V -3.2 Z" fill="none" stroke="#d6f4ff" stroke-width="2" stroke-linejoin="round"/>
<line x1="-7" y1="-7.5" x2="-7" y2="-17.5" stroke="#d6f4ff" stroke-width="3" stroke-linecap="round"/><line x1="6" y1="-7.5" x2="6" y2="-17.5" stroke="#d6f4ff" stroke-width="3" stroke-linecap="round"/>
<line x1="-7" y1="-9" x2="-7" y2="-16.5" stroke="#1f87e4" stroke-width="0.9"/><line x1="6" y1="-9" x2="6" y2="-16.5" stroke="#1f87e4" stroke-width="0.9"/>
<circle cx="-5.2" cy="4.4" r="1.9" fill="#d6f4ff"/><circle cx="4.7" cy="4.3" r="1.9" fill="#d6f4ff"/>
<line x1="-3.5" y1="14.5" x2="-3.5" y2="22" stroke="#d6f4ff" stroke-width="1.6"/><line x1="-0.3" y1="14.5" x2="-0.3" y2="22" stroke="#d6f4ff" stroke-width="1.6"/></g></g>
<text x="1117.8" y="253" font-size="22.5" fill="#151515" stroke="#fff" stroke-width="0.6" textLength="169.0" lengthAdjust="spacingAndGlyphs">USB-C(PD100W)</text>
<circle cx="1322.2" cy="257.8" r="32.7" fill="#1f87e4"/>
<g transform="translate(1322.2 257.8)"><rect x="-15.3" y="-5.6" width="31" height="11.4" rx="5.7" fill="none" stroke="#d6f4ff" stroke-width="2.4"/>
<rect x="-11.5" y="-2.4" width="23" height="5" rx="2.5" fill="#d6f4ff"/><g fill="#2f6fae"><circle cx="-8.5" cy="0.1" r="0.9"/><circle cx="-5.6" cy="0.1" r="0.9"/><circle cx="-2.8" cy="0.1" r="0.9"/><circle cx="0" cy="0.1" r="0.9"/><circle cx="2.8" cy="0.1" r="0.9"/><circle cx="5.6" cy="0.1" r="0.9"/><circle cx="8.5" cy="0.1" r="0.9"/></g></g>
<text x="1229" y="334.7" font-size="22.5" fill="#151515" stroke="#fff" stroke-width="0.6" textLength="57.8" lengthAdjust="spacingAndGlyphs">HDMI</text>
<circle cx="1322.2" cy="344.2" r="32.7" fill="#1f87e4"/>
<g transform="translate(1322.2 344.2)"><path d="M -21 -9.5 H 22.5 V 1.5 L 18 9.8 H -16.5 L -21 1.5 Z" fill="none" stroke="#d6f4ff" stroke-width="2.8" stroke-linejoin="round"/>
<g fill="#d6f4ff"><circle cx="-12.5" cy="-2.5" r="1.5"/><circle cx="-7.3" cy="-2.5" r="1.5"/><circle cx="-2" cy="-2.5" r="1.5"/><circle cx="3.2" cy="-2.5" r="1.5"/><circle cx="8.4" cy="-2.5" r="1.5"/><circle cx="13.6" cy="-2.5" r="1.5"/></g>
<rect x="-14" y="1.2" width="29" height="3.4" fill="#d6f4ff"/></g>
<text x="1137" y="439.3" font-size="22.5" fill="#151515" stroke="#fff" stroke-width="0.6" textLength="150.5" lengthAdjust="spacingAndGlyphs">2xDisplayPort</text>
<circle cx="1322.2" cy="449" r="32.7" fill="#1f87e4"/>
<g transform="translate(1322.2 449)"><path d="M -25 -8.5 H 24 V 1.5 L 18.5 7.5 H -25 Z" fill="none" stroke="#d6f4ff" stroke-width="2.8" stroke-linejoin="round"/>
<g fill="#d6f4ff"><circle cx="-19" cy="-4" r="1.3"/><circle cx="-14" cy="-4" r="1.3"/><circle cx="-9" cy="-4" r="1.3"/><circle cx="-4" cy="-4" r="1.3"/><circle cx="1" cy="-4" r="1.3"/><circle cx="6" cy="-4" r="1.3"/><circle cx="11" cy="-4" r="1.3"/>
<circle cx="-16" cy="3.3" r="1.3"/><circle cx="-11" cy="3.3" r="1.3"/><circle cx="-6" cy="3.3" r="1.3"/><circle cx="-1" cy="3.3" r="1.3"/><circle cx="4" cy="3.3" r="1.3"/><circle cx="9" cy="3.3" r="1.3"/><circle cx="14" cy="3.3" r="1.3"/></g>
<path d="M -21.5 2 V -0.3 H 17.5 V 2" fill="none" stroke="#d6f4ff" stroke-width="1.6"/></g>
<text x="1097" y="642.6" font-size="22.5" fill="#151515" stroke="#fff" stroke-width="0.6" textLength="189.0" lengthAdjust="spacingAndGlyphs">4xUSB3.0(5Gbps)</text>
<circle cx="1322.2" cy="651.9" r="32.7" fill="#1f87e4"/>
<g transform="translate(1322.2 651.9)"><rect x="-21" y="-7.3" width="43" height="17" rx="3" fill="none" stroke="#d6f4ff" stroke-width="3.2"/>
<rect x="-15.5" y="-3.8" width="31.5" height="3.3" fill="#d6f4ff"/></g>
<text x="1142.9" y="929.1" font-size="22.5" fill="#151515" stroke="#fff" stroke-width="0.6" textLength="144.4" lengthAdjust="spacingAndGlyphs">Gigabit RJ45</text>
<circle cx="1322.2" cy="935.5" r="32.7" fill="#1f87e4"/>
<g transform="translate(1322.2 935.5)"><rect x="-18" y="-13.2" width="37" height="27.6" rx="2.5" fill="none" stroke="#d6f4ff" stroke-width="2.2"/>
<path d="M -12 -7.6 H 12.6 V 3.6 H 9 V 6.8 H 5 V 9 H -4.8 V 6.8 H -8.8 V 3.6 H -12 Z" fill="none" stroke="#d6f4ff" stroke-width="2.2" stroke-linejoin="round"/>
<g fill="#d6f4ff"><rect x="-9" y="-5.6" width="1.6" height="5.2"/><rect x="-6" y="-5.6" width="1.6" height="5.2"/><rect x="-3" y="-5.6" width="1.6" height="5.2"/><rect x="0" y="-5.6" width="1.6" height="5.2"/><rect x="3" y="-5.6" width="1.6" height="5.2"/><rect x="6" y="-5.6" width="1.6" height="5.2"/><rect x="9" y="-5.6" width="1.6" height="5.2"/></g></g>
<g fill="#1b7ad5"><path d="M 247.8 1114.5 H 260.3 V 1171.6 H 247.8 V 1131 L 236.4 1137.5 V 1125 Z"/><text x="276" y="1171" font-size="83" font-weight="bold" stroke="#1b7ad5" stroke-width="0.8">3</text><rect x="329.8" y="1146.5" width="21.8" height="10.5"/><rect x="364.5" y="1114.5" width="13.1" height="57.1"/><path d="M 390 1171.6 V 1114.5 H 403 L 424 1149 V 1114.5 H 436.8 V 1171.6 H 423.8 L 402.8 1137 V 1171.6 Z"/><rect x="451.3" y="1146.5" width="21.8" height="10.5"/><path d="M 500 1114.5 H 512.5 V 1171.6 H 500 V 1131 L 486.6 1137.5 V 1125 Z"/></g>
<text x="237" y="1210" font-size="32" fill="#1e1e1e" stroke="#fff" stroke-width="0.7" textLength="473.6" lengthAdjust="spacingAndGlyphs">Upgrading your workstation</text>
</svg></body></html>
